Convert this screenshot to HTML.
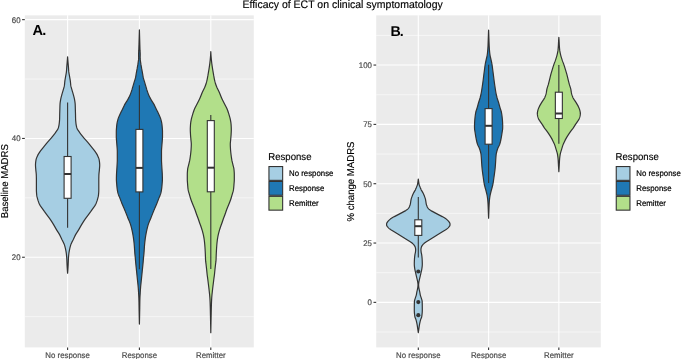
<!DOCTYPE html>
<html><head><meta charset="utf-8"><style>
html,body{margin:0;padding:0;background:#fff;}
svg{display:block;will-change:transform;}
text{font-family:"Liberation Sans",sans-serif;text-rendering:geometricPrecision;}
.gmaj{stroke:#fff;stroke-width:1.1;}
.gmin{stroke:#fff;stroke-width:0.55;}
.vo{stroke:#333333;stroke-width:1.2;stroke-linejoin:round;}
.wh{stroke:#333333;stroke-width:1.1;}
.bx{fill:#fff;stroke:#333333;stroke-width:1.1;}
.md{stroke:#333333;stroke-width:2.0;}
.tk{stroke:#333333;stroke-width:1.1;}
.at{font-size:7.85px;fill:#4D4D4D;stroke:#4D4D4D;stroke-width:0.2px;}
.ax{font-size:9.6px;fill:#000;stroke:#000;stroke-width:0.15px;}
.ti{font-size:10.5px;fill:#000;stroke:#000;stroke-width:0.15px;}
.lt{font-size:9.6px;fill:#000;stroke:#000;stroke-width:0.15px;}
.lx{font-size:7.85px;fill:#000;stroke:#000;stroke-width:0.2px;}
.lab{font-size:14.6px;letter-spacing:-1.0px;font-weight:bold;fill:#000;}
</style></head><body>
<svg width="685" height="359" viewBox="0 0 685 359" xmlns="http://www.w3.org/2000/svg">
<rect x="24.8" y="15.35" width="229.00" height="332.05" fill="#EBEBEB"/>
<line x1="24.8" x2="253.8" y1="316.65" y2="316.65" class="gmin"/>
<line x1="24.8" x2="253.8" y1="197.85" y2="197.85" class="gmin"/>
<line x1="24.8" x2="253.8" y1="79.05" y2="79.05" class="gmin"/>
<line x1="24.8" x2="253.8" y1="257.25" y2="257.25" class="gmaj"/>
<line x1="24.8" x2="253.8" y1="138.45" y2="138.45" class="gmaj"/>
<line x1="24.8" x2="253.8" y1="19.65" y2="19.65" class="gmaj"/>
<line x1="67.6" x2="67.6" y1="15.35" y2="347.4" class="gmaj"/>
<line x1="139.4" x2="139.4" y1="15.35" y2="347.4" class="gmaj"/>
<line x1="210.8" x2="210.8" y1="15.35" y2="347.4" class="gmaj"/>
<path d="M67.60,56.90 L67.64,57.40 L67.67,57.90 L67.71,58.40 L67.75,58.90 L67.79,59.40 L67.83,59.90 L67.87,60.40 L67.91,60.90 L67.95,61.40 L67.99,61.90 L68.03,62.40 L68.08,62.90 L68.12,63.40 L68.17,63.90 L68.21,64.40 L68.26,64.90 L68.30,65.40 L68.34,65.90 L68.38,66.40 L68.42,66.90 L68.46,67.40 L68.49,67.90 L68.52,68.40 L68.55,68.90 L68.58,69.40 L68.62,69.90 L68.65,70.40 L68.69,70.90 L68.74,71.40 L68.79,71.90 L68.86,72.40 L68.93,72.90 L69.01,73.40 L69.10,73.90 L69.19,74.40 L69.28,74.90 L69.38,75.40 L69.46,75.90 L69.55,76.40 L69.63,76.90 L69.72,77.40 L69.81,77.90 L69.90,78.40 L69.99,78.90 L70.08,79.40 L70.16,79.90 L70.24,80.40 L70.31,80.90 L70.37,81.40 L70.43,81.90 L70.48,82.40 L70.52,82.90 L70.57,83.40 L70.61,83.90 L70.66,84.40 L70.72,84.90 L70.79,85.40 L70.87,85.90 L70.97,86.40 L71.09,86.90 L71.22,87.40 L71.36,87.90 L71.51,88.40 L71.66,88.90 L71.81,89.40 L71.95,89.90 L72.09,90.40 L72.24,90.90 L72.38,91.40 L72.53,91.90 L72.69,92.40 L72.84,92.90 L72.98,93.40 L73.13,93.90 L73.27,94.40 L73.40,94.90 L73.54,95.40 L73.67,95.90 L73.81,96.40 L73.94,96.90 L74.07,97.40 L74.19,97.90 L74.31,98.40 L74.42,98.90 L74.51,99.40 L74.60,99.90 L74.69,100.40 L74.77,100.90 L74.85,101.40 L74.93,101.90 L75.00,102.40 L75.06,102.90 L75.12,103.40 L75.16,103.90 L75.19,104.40 L75.22,104.90 L75.24,105.40 L75.26,105.90 L75.27,106.40 L75.29,106.90 L75.30,107.40 L75.31,107.90 L75.32,108.40 L75.34,108.90 L75.35,109.40 L75.37,109.90 L75.38,110.40 L75.40,110.90 L75.42,111.40 L75.43,111.90 L75.45,112.40 L75.46,112.90 L75.48,113.40 L75.49,113.90 L75.50,114.40 L75.52,114.90 L75.52,115.40 L75.53,115.90 L75.54,116.40 L75.55,116.90 L75.56,117.40 L75.57,117.90 L75.58,118.40 L75.59,118.90 L75.61,119.40 L75.64,119.90 L75.67,120.40 L75.71,120.90 L75.75,121.40 L75.80,121.90 L75.85,122.40 L75.90,122.90 L75.96,123.40 L76.02,123.90 L76.09,124.40 L76.17,124.90 L76.26,125.40 L76.36,125.90 L76.47,126.40 L76.59,126.90 L76.72,127.40 L76.86,127.90 L77.05,128.40 L77.28,128.90 L77.55,129.40 L77.85,129.90 L78.18,130.40 L78.52,130.90 L78.87,131.40 L79.22,131.90 L79.56,132.40 L79.90,132.90 L80.26,133.40 L80.62,133.90 L81.00,134.40 L81.39,134.90 L81.79,135.40 L82.19,135.90 L82.60,136.40 L83.01,136.90 L83.42,137.40 L83.83,137.90 L84.26,138.40 L84.70,138.90 L85.14,139.40 L85.59,139.90 L86.04,140.40 L86.49,140.90 L86.94,141.40 L87.37,141.90 L87.80,142.40 L88.22,142.90 L88.64,143.40 L89.05,143.90 L89.46,144.40 L89.86,144.90 L90.26,145.40 L90.66,145.90 L91.06,146.40 L91.46,146.90 L91.86,147.40 L92.26,147.90 L92.67,148.40 L93.07,148.90 L93.48,149.40 L93.88,149.90 L94.27,150.40 L94.65,150.90 L95.01,151.40 L95.37,151.90 L95.70,152.40 L96.03,152.90 L96.35,153.40 L96.67,153.90 L96.97,154.40 L97.25,154.90 L97.52,155.40 L97.76,155.90 L97.98,156.40 L98.19,156.90 L98.40,157.40 L98.60,157.90 L98.78,158.40 L98.95,158.90 L99.08,159.40 L99.18,159.90 L99.26,160.40 L99.34,160.90 L99.41,161.40 L99.48,161.90 L99.54,162.40 L99.59,162.90 L99.63,163.40 L99.67,163.90 L99.69,164.40 L99.70,164.90 L99.70,165.40 L99.68,165.90 L99.66,166.40 L99.63,166.90 L99.59,167.40 L99.55,167.90 L99.51,168.40 L99.46,168.90 L99.42,169.40 L99.38,169.90 L99.34,170.40 L99.29,170.90 L99.23,171.40 L99.17,171.90 L99.12,172.40 L99.06,172.90 L99.01,173.40 L98.97,173.90 L98.93,174.40 L98.90,174.90 L98.89,175.40 L98.87,175.90 L98.85,176.40 L98.84,176.90 L98.83,177.40 L98.82,177.90 L98.81,178.40 L98.80,178.90 L98.80,179.40 L98.80,179.90 L98.80,180.40 L98.80,180.90 L98.80,181.40 L98.80,181.90 L98.80,182.40 L98.80,182.90 L98.80,183.40 L98.80,183.90 L98.80,184.40 L98.80,184.90 L98.80,185.40 L98.80,185.90 L98.80,186.40 L98.80,186.90 L98.80,187.40 L98.80,187.90 L98.80,188.40 L98.80,188.90 L98.80,189.40 L98.80,189.90 L98.80,190.40 L98.79,190.90 L98.77,191.40 L98.74,191.90 L98.71,192.40 L98.68,192.90 L98.64,193.40 L98.59,193.90 L98.55,194.40 L98.50,194.90 L98.44,195.40 L98.36,195.90 L98.27,196.40 L98.16,196.90 L98.04,197.40 L97.91,197.90 L97.77,198.40 L97.63,198.90 L97.49,199.40 L97.34,199.90 L97.19,200.40 L97.03,200.90 L96.85,201.40 L96.67,201.90 L96.48,202.40 L96.27,202.90 L96.06,203.40 L95.83,203.90 L95.60,204.40 L95.35,204.90 L95.07,205.40 L94.76,205.90 L94.43,206.40 L94.08,206.90 L93.72,207.40 L93.36,207.90 L92.99,208.40 L92.63,208.90 L92.27,209.40 L91.92,209.90 L91.57,210.40 L91.21,210.90 L90.86,211.40 L90.49,211.90 L90.13,212.40 L89.77,212.90 L89.40,213.40 L89.04,213.90 L88.67,214.40 L88.30,214.90 L87.93,215.40 L87.55,215.90 L87.17,216.40 L86.79,216.90 L86.41,217.40 L86.03,217.90 L85.67,218.40 L85.31,218.90 L84.96,219.40 L84.62,219.90 L84.29,220.40 L83.96,220.90 L83.63,221.40 L83.31,221.90 L83.00,222.40 L82.68,222.90 L82.37,223.40 L82.07,223.90 L81.76,224.40 L81.46,224.90 L81.17,225.40 L80.88,225.90 L80.59,226.40 L80.31,226.90 L80.03,227.40 L79.75,227.90 L79.47,228.40 L79.19,228.90 L78.90,229.40 L78.60,229.90 L78.29,230.40 L77.98,230.90 L77.66,231.40 L77.33,231.90 L77.01,232.40 L76.68,232.90 L76.37,233.40 L76.06,233.90 L75.77,234.40 L75.49,234.90 L75.23,235.40 L74.97,235.90 L74.72,236.40 L74.48,236.90 L74.24,237.40 L74.00,237.90 L73.77,238.40 L73.53,238.90 L73.30,239.40 L73.05,239.90 L72.80,240.40 L72.55,240.90 L72.29,241.40 L72.04,241.90 L71.79,242.40 L71.55,242.90 L71.33,243.40 L71.12,243.90 L70.93,244.40 L70.77,244.90 L70.61,245.40 L70.46,245.90 L70.32,246.40 L70.18,246.90 L70.05,247.40 L69.93,247.90 L69.81,248.40 L69.70,248.90 L69.60,249.40 L69.50,249.90 L69.40,250.40 L69.30,250.90 L69.21,251.40 L69.13,251.90 L69.04,252.40 L68.97,252.90 L68.90,253.40 L68.83,253.90 L68.78,254.40 L68.73,254.90 L68.68,255.40 L68.63,255.90 L68.59,256.40 L68.55,256.90 L68.51,257.40 L68.47,257.90 L68.44,258.40 L68.41,258.90 L68.38,259.40 L68.36,259.90 L68.34,260.40 L68.31,260.90 L68.30,261.40 L68.28,261.90 L68.26,262.40 L68.24,262.90 L68.22,263.40 L68.20,263.90 L68.18,264.40 L68.16,264.90 L68.13,265.40 L68.10,265.90 L68.07,266.40 L68.05,266.90 L68.02,267.40 L67.98,267.90 L67.95,268.40 L67.92,268.90 L67.89,269.40 L67.85,269.90 L67.82,270.40 L67.78,270.90 L67.74,271.40 L67.70,271.90 L67.66,272.40 L67.62,272.90 L67.60,273.20 L67.60,273.20 L67.58,272.90 L67.54,272.40 L67.50,271.90 L67.46,271.40 L67.42,270.90 L67.38,270.40 L67.35,269.90 L67.31,269.40 L67.28,268.90 L67.25,268.40 L67.22,267.90 L67.18,267.40 L67.15,266.90 L67.13,266.40 L67.10,265.90 L67.07,265.40 L67.04,264.90 L67.02,264.40 L67.00,263.90 L66.98,263.40 L66.96,262.90 L66.94,262.40 L66.92,261.90 L66.90,261.40 L66.89,260.90 L66.86,260.40 L66.84,259.90 L66.82,259.40 L66.79,258.90 L66.76,258.40 L66.73,257.90 L66.69,257.40 L66.65,256.90 L66.61,256.40 L66.57,255.90 L66.52,255.40 L66.47,254.90 L66.42,254.40 L66.37,253.90 L66.30,253.40 L66.23,252.90 L66.16,252.40 L66.07,251.90 L65.99,251.40 L65.90,250.90 L65.80,250.40 L65.70,249.90 L65.60,249.40 L65.50,248.90 L65.39,248.40 L65.27,247.90 L65.15,247.40 L65.02,246.90 L64.88,246.40 L64.74,245.90 L64.59,245.40 L64.43,244.90 L64.27,244.40 L64.08,243.90 L63.87,243.40 L63.65,242.90 L63.41,242.40 L63.16,241.90 L62.91,241.40 L62.65,240.90 L62.40,240.40 L62.15,239.90 L61.90,239.40 L61.67,238.90 L61.43,238.40 L61.20,237.90 L60.96,237.40 L60.72,236.90 L60.48,236.40 L60.23,235.90 L59.97,235.40 L59.71,234.90 L59.43,234.40 L59.14,233.90 L58.83,233.40 L58.52,232.90 L58.19,232.40 L57.87,231.90 L57.54,231.40 L57.22,230.90 L56.91,230.40 L56.60,229.90 L56.30,229.40 L56.01,228.90 L55.73,228.40 L55.45,227.90 L55.17,227.40 L54.89,226.90 L54.61,226.40 L54.32,225.90 L54.03,225.40 L53.74,224.90 L53.44,224.40 L53.13,223.90 L52.83,223.40 L52.52,222.90 L52.20,222.40 L51.89,221.90 L51.57,221.40 L51.24,220.90 L50.91,220.40 L50.58,219.90 L50.24,219.40 L49.89,218.90 L49.53,218.40 L49.17,217.90 L48.79,217.40 L48.41,216.90 L48.03,216.40 L47.65,215.90 L47.27,215.40 L46.90,214.90 L46.53,214.40 L46.16,213.90 L45.80,213.40 L45.43,212.90 L45.07,212.40 L44.71,211.90 L44.34,211.40 L43.99,210.90 L43.63,210.40 L43.28,209.90 L42.93,209.40 L42.57,208.90 L42.21,208.40 L41.84,207.90 L41.48,207.40 L41.12,206.90 L40.77,206.40 L40.44,205.90 L40.13,205.40 L39.85,204.90 L39.60,204.40 L39.37,203.90 L39.14,203.40 L38.93,202.90 L38.72,202.40 L38.53,201.90 L38.35,201.40 L38.17,200.90 L38.01,200.40 L37.86,199.90 L37.71,199.40 L37.57,198.90 L37.43,198.40 L37.29,197.90 L37.16,197.40 L37.04,196.90 L36.93,196.40 L36.84,195.90 L36.76,195.40 L36.70,194.90 L36.65,194.40 L36.61,193.90 L36.56,193.40 L36.52,192.90 L36.49,192.40 L36.46,191.90 L36.43,191.40 L36.41,190.90 L36.40,190.40 L36.40,189.90 L36.40,189.40 L36.40,188.90 L36.40,188.40 L36.40,187.90 L36.40,187.40 L36.40,186.90 L36.40,186.40 L36.40,185.90 L36.40,185.40 L36.40,184.90 L36.40,184.40 L36.40,183.90 L36.40,183.40 L36.40,182.90 L36.40,182.40 L36.40,181.90 L36.40,181.40 L36.40,180.90 L36.40,180.40 L36.40,179.90 L36.40,179.40 L36.40,178.90 L36.39,178.40 L36.38,177.90 L36.37,177.40 L36.36,176.90 L36.35,176.40 L36.33,175.90 L36.31,175.40 L36.30,174.90 L36.27,174.40 L36.23,173.90 L36.19,173.40 L36.14,172.90 L36.08,172.40 L36.03,171.90 L35.97,171.40 L35.91,170.90 L35.86,170.40 L35.82,169.90 L35.78,169.40 L35.74,168.90 L35.69,168.40 L35.65,167.90 L35.61,167.40 L35.57,166.90 L35.54,166.40 L35.52,165.90 L35.50,165.40 L35.50,164.90 L35.51,164.40 L35.53,163.90 L35.57,163.40 L35.61,162.90 L35.66,162.40 L35.72,161.90 L35.79,161.40 L35.86,160.90 L35.94,160.40 L36.02,159.90 L36.12,159.40 L36.25,158.90 L36.42,158.40 L36.60,157.90 L36.80,157.40 L37.01,156.90 L37.22,156.40 L37.44,155.90 L37.68,155.40 L37.95,154.90 L38.23,154.40 L38.53,153.90 L38.85,153.40 L39.17,152.90 L39.50,152.40 L39.83,151.90 L40.19,151.40 L40.55,150.90 L40.93,150.40 L41.32,149.90 L41.72,149.40 L42.13,148.90 L42.53,148.40 L42.94,147.90 L43.34,147.40 L43.74,146.90 L44.14,146.40 L44.54,145.90 L44.94,145.40 L45.34,144.90 L45.74,144.40 L46.15,143.90 L46.56,143.40 L46.98,142.90 L47.40,142.40 L47.83,141.90 L48.26,141.40 L48.71,140.90 L49.16,140.40 L49.61,139.90 L50.06,139.40 L50.50,138.90 L50.94,138.40 L51.37,137.90 L51.78,137.40 L52.19,136.90 L52.60,136.40 L53.01,135.90 L53.41,135.40 L53.81,134.90 L54.20,134.40 L54.58,133.90 L54.94,133.40 L55.30,132.90 L55.64,132.40 L55.98,131.90 L56.33,131.40 L56.68,130.90 L57.02,130.40 L57.35,129.90 L57.65,129.40 L57.92,128.90 L58.15,128.40 L58.34,127.90 L58.48,127.40 L58.61,126.90 L58.73,126.40 L58.84,125.90 L58.94,125.40 L59.03,124.90 L59.11,124.40 L59.18,123.90 L59.24,123.40 L59.30,122.90 L59.35,122.40 L59.40,121.90 L59.45,121.40 L59.49,120.90 L59.53,120.40 L59.56,119.90 L59.59,119.40 L59.61,118.90 L59.62,118.40 L59.63,117.90 L59.64,117.40 L59.65,116.90 L59.66,116.40 L59.67,115.90 L59.68,115.40 L59.68,114.90 L59.70,114.40 L59.71,113.90 L59.72,113.40 L59.74,112.90 L59.75,112.40 L59.77,111.90 L59.78,111.40 L59.80,110.90 L59.82,110.40 L59.83,109.90 L59.85,109.40 L59.86,108.90 L59.88,108.40 L59.89,107.90 L59.90,107.40 L59.91,106.90 L59.93,106.40 L59.94,105.90 L59.96,105.40 L59.98,104.90 L60.01,104.40 L60.04,103.90 L60.08,103.40 L60.14,102.90 L60.20,102.40 L60.27,101.90 L60.35,101.40 L60.43,100.90 L60.51,100.40 L60.60,99.90 L60.69,99.40 L60.78,98.90 L60.89,98.40 L61.01,97.90 L61.13,97.40 L61.26,96.90 L61.39,96.40 L61.53,95.90 L61.66,95.40 L61.80,94.90 L61.93,94.40 L62.07,93.90 L62.22,93.40 L62.36,92.90 L62.51,92.40 L62.67,91.90 L62.82,91.40 L62.96,90.90 L63.11,90.40 L63.25,89.90 L63.39,89.40 L63.54,88.90 L63.69,88.40 L63.84,87.90 L63.98,87.40 L64.11,86.90 L64.23,86.40 L64.33,85.90 L64.41,85.40 L64.48,84.90 L64.54,84.40 L64.59,83.90 L64.63,83.40 L64.68,82.90 L64.72,82.40 L64.77,81.90 L64.83,81.40 L64.89,80.90 L64.96,80.40 L65.04,79.90 L65.12,79.40 L65.21,78.90 L65.30,78.40 L65.39,77.90 L65.48,77.40 L65.57,76.90 L65.65,76.40 L65.74,75.90 L65.82,75.40 L65.92,74.90 L66.01,74.40 L66.10,73.90 L66.19,73.40 L66.27,72.90 L66.34,72.40 L66.41,71.90 L66.46,71.40 L66.51,70.90 L66.55,70.40 L66.58,69.90 L66.62,69.40 L66.65,68.90 L66.68,68.40 L66.71,67.90 L66.74,67.40 L66.78,66.90 L66.82,66.40 L66.86,65.90 L66.90,65.40 L66.94,64.90 L66.99,64.40 L67.03,63.90 L67.08,63.40 L67.12,62.90 L67.17,62.40 L67.21,61.90 L67.25,61.40 L67.29,60.90 L67.33,60.40 L67.37,59.90 L67.41,59.40 L67.45,58.90 L67.49,58.40 L67.53,57.90 L67.56,57.40 L67.60,56.90 Z" fill="#A6CEE3" class="vo"/>
<path d="M139.40,29.90 L139.41,30.40 L139.43,30.90 L139.44,31.40 L139.46,31.90 L139.47,32.40 L139.49,32.90 L139.50,33.40 L139.52,33.90 L139.53,34.40 L139.55,34.90 L139.56,35.40 L139.58,35.90 L139.59,36.40 L139.61,36.90 L139.62,37.40 L139.64,37.90 L139.65,38.40 L139.67,38.90 L139.68,39.40 L139.70,39.90 L139.71,40.40 L139.73,40.90 L139.74,41.40 L139.75,41.90 L139.77,42.40 L139.78,42.90 L139.80,43.40 L139.81,43.90 L139.82,44.40 L139.84,44.90 L139.85,45.40 L139.87,45.90 L139.88,46.40 L139.90,46.90 L139.91,47.40 L139.93,47.90 L139.94,48.40 L139.96,48.90 L139.98,49.40 L140.00,49.90 L140.02,50.40 L140.04,50.90 L140.08,51.40 L140.11,51.90 L140.14,52.40 L140.16,52.90 L140.19,53.40 L140.20,53.90 L140.20,54.40 L140.20,54.90 L140.19,55.40 L140.18,55.90 L140.17,56.40 L140.16,56.90 L140.15,57.40 L140.15,57.90 L140.16,58.40 L140.18,58.90 L140.22,59.40 L140.27,59.90 L140.34,60.40 L140.41,60.90 L140.48,61.40 L140.56,61.90 L140.63,62.40 L140.70,62.90 L140.77,63.40 L140.85,63.90 L140.92,64.40 L141.01,64.90 L141.09,65.40 L141.18,65.90 L141.27,66.40 L141.36,66.90 L141.45,67.40 L141.54,67.90 L141.62,68.40 L141.72,68.90 L141.81,69.40 L141.90,69.90 L141.99,70.40 L142.09,70.90 L142.18,71.40 L142.27,71.90 L142.36,72.40 L142.45,72.90 L142.54,73.40 L142.62,73.90 L142.70,74.40 L142.78,74.90 L142.86,75.40 L142.94,75.90 L143.03,76.40 L143.13,76.90 L143.23,77.40 L143.34,77.90 L143.47,78.40 L143.61,78.90 L143.76,79.40 L143.91,79.90 L144.07,80.40 L144.23,80.90 L144.39,81.40 L144.55,81.90 L144.70,82.40 L144.85,82.90 L144.99,83.40 L145.14,83.90 L145.28,84.40 L145.43,84.90 L145.57,85.40 L145.72,85.90 L145.86,86.40 L146.01,86.90 L146.16,87.40 L146.31,87.90 L146.45,88.40 L146.60,88.90 L146.75,89.40 L146.89,89.90 L147.05,90.40 L147.20,90.90 L147.36,91.40 L147.53,91.90 L147.71,92.40 L147.89,92.90 L148.08,93.40 L148.28,93.90 L148.49,94.40 L148.70,94.90 L148.92,95.40 L149.15,95.90 L149.39,96.40 L149.63,96.90 L149.88,97.40 L150.14,97.90 L150.40,98.40 L150.66,98.90 L150.94,99.40 L151.21,99.90 L151.50,100.40 L151.81,100.90 L152.12,101.40 L152.44,101.90 L152.76,102.40 L153.08,102.90 L153.40,103.40 L153.70,103.90 L153.99,104.40 L154.26,104.90 L154.52,105.40 L154.77,105.90 L155.02,106.40 L155.26,106.90 L155.50,107.40 L155.74,107.90 L155.97,108.40 L156.21,108.90 L156.45,109.40 L156.70,109.90 L156.95,110.40 L157.20,110.90 L157.45,111.40 L157.71,111.90 L157.96,112.40 L158.20,112.90 L158.44,113.40 L158.68,113.90 L158.90,114.40 L159.12,114.90 L159.34,115.40 L159.56,115.90 L159.77,116.40 L159.98,116.90 L160.18,117.40 L160.37,117.90 L160.55,118.40 L160.71,118.90 L160.86,119.40 L161.00,119.90 L161.13,120.40 L161.26,120.90 L161.38,121.40 L161.50,121.90 L161.60,122.40 L161.70,122.90 L161.79,123.40 L161.87,123.90 L161.94,124.40 L162.00,124.90 L162.06,125.40 L162.11,125.90 L162.16,126.40 L162.20,126.90 L162.24,127.40 L162.28,127.90 L162.33,128.40 L162.37,128.90 L162.41,129.40 L162.44,129.90 L162.47,130.40 L162.49,130.90 L162.50,131.40 L162.50,131.90 L162.50,132.40 L162.50,132.90 L162.50,133.40 L162.50,133.90 L162.50,134.40 L162.50,134.90 L162.50,135.40 L162.50,135.90 L162.50,136.40 L162.50,136.90 L162.49,137.40 L162.47,137.90 L162.44,138.40 L162.40,138.90 L162.37,139.40 L162.33,139.90 L162.28,140.40 L162.24,140.90 L162.21,141.40 L162.17,141.90 L162.13,142.40 L162.09,142.90 L162.05,143.40 L162.00,143.90 L161.96,144.40 L161.92,144.90 L161.88,145.40 L161.84,145.90 L161.80,146.40 L161.76,146.90 L161.72,147.40 L161.68,147.90 L161.64,148.40 L161.60,148.90 L161.57,149.40 L161.54,149.90 L161.51,150.40 L161.50,150.90 L161.50,151.40 L161.50,151.90 L161.50,152.40 L161.50,152.90 L161.50,153.40 L161.50,153.90 L161.50,154.40 L161.50,154.90 L161.50,155.40 L161.50,155.90 L161.50,156.40 L161.50,156.90 L161.50,157.40 L161.50,157.90 L161.50,158.40 L161.50,158.90 L161.50,159.40 L161.50,159.90 L161.50,160.40 L161.51,160.90 L161.53,161.40 L161.55,161.90 L161.58,162.40 L161.60,162.90 L161.63,163.40 L161.66,163.90 L161.68,164.40 L161.71,164.90 L161.74,165.40 L161.77,165.90 L161.80,166.40 L161.83,166.90 L161.86,167.40 L161.89,167.90 L161.92,168.40 L161.96,168.90 L161.99,169.40 L162.02,169.90 L162.05,170.40 L162.09,170.90 L162.12,171.40 L162.16,171.90 L162.19,172.40 L162.22,172.90 L162.25,173.40 L162.28,173.90 L162.30,174.40 L162.31,174.90 L162.33,175.40 L162.34,175.90 L162.36,176.40 L162.37,176.90 L162.38,177.40 L162.39,177.90 L162.39,178.40 L162.40,178.90 L162.40,179.40 L162.39,179.90 L162.38,180.40 L162.36,180.90 L162.32,181.40 L162.29,181.90 L162.25,182.40 L162.21,182.90 L162.16,183.40 L162.12,183.90 L162.08,184.40 L162.04,184.90 L162.00,185.40 L161.96,185.90 L161.91,186.40 L161.86,186.90 L161.81,187.40 L161.75,187.90 L161.69,188.40 L161.62,188.90 L161.55,189.40 L161.48,189.90 L161.40,190.40 L161.31,190.90 L161.22,191.40 L161.12,191.90 L161.01,192.40 L160.90,192.90 L160.77,193.40 L160.61,193.90 L160.44,194.40 L160.25,194.90 L160.05,195.40 L159.84,195.90 L159.63,196.40 L159.42,196.90 L159.22,197.40 L159.02,197.90 L158.83,198.40 L158.64,198.90 L158.45,199.40 L158.26,199.90 L158.07,200.40 L157.88,200.90 L157.68,201.40 L157.48,201.90 L157.28,202.40 L157.08,202.90 L156.87,203.40 L156.66,203.90 L156.44,204.40 L156.22,204.90 L156.00,205.40 L155.79,205.90 L155.57,206.40 L155.35,206.90 L155.14,207.40 L154.93,207.90 L154.73,208.40 L154.52,208.90 L154.31,209.40 L154.11,209.90 L153.91,210.40 L153.70,210.90 L153.50,211.40 L153.30,211.90 L153.10,212.40 L152.90,212.90 L152.70,213.40 L152.51,213.90 L152.31,214.40 L152.11,214.90 L151.92,215.40 L151.72,215.90 L151.52,216.40 L151.32,216.90 L151.12,217.40 L150.91,217.90 L150.70,218.40 L150.48,218.90 L150.26,219.40 L150.05,219.90 L149.84,220.40 L149.64,220.90 L149.44,221.40 L149.24,221.90 L149.05,222.40 L148.85,222.90 L148.66,223.40 L148.48,223.90 L148.31,224.40 L148.15,224.90 L148.00,225.40 L147.85,225.90 L147.72,226.40 L147.58,226.90 L147.45,227.40 L147.33,227.90 L147.20,228.40 L147.09,228.90 L146.97,229.40 L146.85,229.90 L146.74,230.40 L146.63,230.90 L146.52,231.40 L146.42,231.90 L146.32,232.40 L146.22,232.90 L146.12,233.40 L146.03,233.90 L145.94,234.40 L145.85,234.90 L145.76,235.40 L145.68,235.90 L145.60,236.40 L145.52,236.90 L145.44,237.40 L145.37,237.90 L145.30,238.40 L145.23,238.90 L145.16,239.40 L145.10,239.90 L145.04,240.40 L144.97,240.90 L144.91,241.40 L144.86,241.90 L144.80,242.40 L144.75,242.90 L144.69,243.40 L144.65,243.90 L144.60,244.40 L144.56,244.90 L144.52,245.40 L144.48,245.90 L144.44,246.40 L144.41,246.90 L144.37,247.40 L144.34,247.90 L144.31,248.40 L144.27,248.90 L144.24,249.40 L144.20,249.90 L144.17,250.40 L144.13,250.90 L144.10,251.40 L144.07,251.90 L144.03,252.40 L144.00,252.90 L143.96,253.40 L143.92,253.90 L143.87,254.40 L143.82,254.90 L143.77,255.40 L143.71,255.90 L143.66,256.40 L143.60,256.90 L143.55,257.40 L143.50,257.90 L143.45,258.40 L143.41,258.90 L143.37,259.40 L143.33,259.90 L143.29,260.40 L143.25,260.90 L143.21,261.40 L143.17,261.90 L143.13,262.40 L143.08,262.90 L143.03,263.40 L142.98,263.90 L142.93,264.40 L142.88,264.90 L142.83,265.40 L142.78,265.90 L142.72,266.40 L142.67,266.90 L142.62,267.40 L142.57,267.90 L142.52,268.40 L142.47,268.90 L142.42,269.40 L142.37,269.90 L142.31,270.40 L142.26,270.90 L142.21,271.40 L142.16,271.90 L142.11,272.40 L142.06,272.90 L142.01,273.40 L141.96,273.90 L141.91,274.40 L141.86,274.90 L141.80,275.40 L141.75,275.90 L141.70,276.40 L141.65,276.90 L141.60,277.40 L141.55,277.90 L141.50,278.40 L141.44,278.90 L141.39,279.40 L141.34,279.90 L141.29,280.40 L141.23,280.90 L141.18,281.40 L141.13,281.90 L141.08,282.40 L141.03,282.90 L140.97,283.40 L140.92,283.90 L140.86,284.40 L140.81,284.90 L140.76,285.40 L140.71,285.90 L140.66,286.40 L140.62,286.90 L140.58,287.40 L140.54,287.90 L140.50,288.40 L140.46,288.90 L140.43,289.40 L140.39,289.90 L140.36,290.40 L140.33,290.90 L140.30,291.40 L140.26,291.90 L140.23,292.40 L140.21,292.90 L140.18,293.40 L140.15,293.90 L140.12,294.40 L140.09,294.90 L140.06,295.40 L140.03,295.90 L140.01,296.40 L139.98,296.90 L139.96,297.40 L139.94,297.90 L139.92,298.40 L139.90,298.90 L139.89,299.40 L139.88,299.90 L139.86,300.40 L139.85,300.90 L139.84,301.40 L139.83,301.90 L139.82,302.40 L139.81,302.90 L139.81,303.40 L139.80,303.90 L139.79,304.40 L139.78,304.90 L139.77,305.40 L139.77,305.90 L139.76,306.40 L139.75,306.90 L139.74,307.40 L139.74,307.90 L139.73,308.40 L139.72,308.90 L139.71,309.40 L139.70,309.90 L139.69,310.40 L139.68,310.90 L139.67,311.40 L139.66,311.90 L139.65,312.40 L139.64,312.90 L139.63,313.40 L139.62,313.90 L139.61,314.40 L139.60,314.90 L139.59,315.40 L139.58,315.90 L139.57,316.40 L139.56,316.90 L139.55,317.40 L139.54,317.90 L139.53,318.40 L139.52,318.90 L139.51,319.40 L139.49,319.90 L139.48,320.40 L139.47,320.90 L139.46,321.40 L139.45,321.90 L139.44,322.40 L139.43,322.90 L139.42,323.40 L139.40,323.90 L139.40,324.10 L139.40,324.10 L139.40,323.90 L139.38,323.40 L139.37,322.90 L139.36,322.40 L139.35,321.90 L139.34,321.40 L139.33,320.90 L139.32,320.40 L139.31,319.90 L139.29,319.40 L139.28,318.90 L139.27,318.40 L139.26,317.90 L139.25,317.40 L139.24,316.90 L139.23,316.40 L139.22,315.90 L139.21,315.40 L139.20,314.90 L139.19,314.40 L139.18,313.90 L139.17,313.40 L139.16,312.90 L139.15,312.40 L139.14,311.90 L139.13,311.40 L139.12,310.90 L139.11,310.40 L139.10,309.90 L139.09,309.40 L139.08,308.90 L139.07,308.40 L139.06,307.90 L139.06,307.40 L139.05,306.90 L139.04,306.40 L139.03,305.90 L139.03,305.40 L139.02,304.90 L139.01,304.40 L139.00,303.90 L138.99,303.40 L138.99,302.90 L138.98,302.40 L138.97,301.90 L138.96,301.40 L138.95,300.90 L138.94,300.40 L138.92,299.90 L138.91,299.40 L138.90,298.90 L138.88,298.40 L138.86,297.90 L138.84,297.40 L138.82,296.90 L138.79,296.40 L138.77,295.90 L138.74,295.40 L138.71,294.90 L138.68,294.40 L138.65,293.90 L138.62,293.40 L138.59,292.90 L138.57,292.40 L138.54,291.90 L138.50,291.40 L138.47,290.90 L138.44,290.40 L138.41,289.90 L138.37,289.40 L138.34,288.90 L138.30,288.40 L138.26,287.90 L138.22,287.40 L138.18,286.90 L138.14,286.40 L138.09,285.90 L138.04,285.40 L137.99,284.90 L137.94,284.40 L137.88,283.90 L137.83,283.40 L137.77,282.90 L137.72,282.40 L137.67,281.90 L137.62,281.40 L137.57,280.90 L137.51,280.40 L137.46,279.90 L137.41,279.40 L137.36,278.90 L137.30,278.40 L137.25,277.90 L137.20,277.40 L137.15,276.90 L137.10,276.40 L137.05,275.90 L137.00,275.40 L136.94,274.90 L136.89,274.40 L136.84,273.90 L136.79,273.40 L136.74,272.90 L136.69,272.40 L136.64,271.90 L136.59,271.40 L136.54,270.90 L136.49,270.40 L136.43,269.90 L136.38,269.40 L136.33,268.90 L136.28,268.40 L136.23,267.90 L136.18,267.40 L136.13,266.90 L136.08,266.40 L136.02,265.90 L135.97,265.40 L135.92,264.90 L135.87,264.40 L135.82,263.90 L135.77,263.40 L135.72,262.90 L135.67,262.40 L135.63,261.90 L135.59,261.40 L135.55,260.90 L135.51,260.40 L135.47,259.90 L135.43,259.40 L135.39,258.90 L135.35,258.40 L135.30,257.90 L135.25,257.40 L135.20,256.90 L135.14,256.40 L135.09,255.90 L135.03,255.40 L134.98,254.90 L134.93,254.40 L134.88,253.90 L134.84,253.40 L134.80,252.90 L134.77,252.40 L134.73,251.90 L134.70,251.40 L134.67,250.90 L134.63,250.40 L134.60,249.90 L134.56,249.40 L134.53,248.90 L134.49,248.40 L134.46,247.90 L134.43,247.40 L134.39,246.90 L134.36,246.40 L134.32,245.90 L134.28,245.40 L134.24,244.90 L134.20,244.40 L134.15,243.90 L134.11,243.40 L134.05,242.90 L134.00,242.40 L133.94,241.90 L133.89,241.40 L133.83,240.90 L133.76,240.40 L133.70,239.90 L133.64,239.40 L133.57,238.90 L133.50,238.40 L133.43,237.90 L133.36,237.40 L133.28,236.90 L133.20,236.40 L133.12,235.90 L133.04,235.40 L132.95,234.90 L132.86,234.40 L132.77,233.90 L132.68,233.40 L132.58,232.90 L132.48,232.40 L132.38,231.90 L132.28,231.40 L132.17,230.90 L132.06,230.40 L131.95,229.90 L131.83,229.40 L131.71,228.90 L131.60,228.40 L131.47,227.90 L131.35,227.40 L131.22,226.90 L131.08,226.40 L130.95,225.90 L130.80,225.40 L130.65,224.90 L130.49,224.40 L130.32,223.90 L130.14,223.40 L129.95,222.90 L129.75,222.40 L129.56,221.90 L129.36,221.40 L129.16,220.90 L128.96,220.40 L128.75,219.90 L128.54,219.40 L128.32,218.90 L128.10,218.40 L127.89,217.90 L127.68,217.40 L127.48,216.90 L127.28,216.40 L127.08,215.90 L126.88,215.40 L126.69,214.90 L126.49,214.40 L126.29,213.90 L126.10,213.40 L125.90,212.90 L125.70,212.40 L125.50,211.90 L125.30,211.40 L125.10,210.90 L124.89,210.40 L124.69,209.90 L124.49,209.40 L124.28,208.90 L124.07,208.40 L123.87,207.90 L123.66,207.40 L123.45,206.90 L123.23,206.40 L123.01,205.90 L122.80,205.40 L122.58,204.90 L122.36,204.40 L122.14,203.90 L121.93,203.40 L121.72,202.90 L121.52,202.40 L121.32,201.90 L121.12,201.40 L120.92,200.90 L120.73,200.40 L120.54,199.90 L120.35,199.40 L120.16,198.90 L119.97,198.40 L119.78,197.90 L119.58,197.40 L119.38,196.90 L119.17,196.40 L118.96,195.90 L118.75,195.40 L118.55,194.90 L118.36,194.40 L118.19,193.90 L118.03,193.40 L117.90,192.90 L117.79,192.40 L117.68,191.90 L117.58,191.40 L117.49,190.90 L117.40,190.40 L117.32,189.90 L117.25,189.40 L117.18,188.90 L117.11,188.40 L117.05,187.90 L116.99,187.40 L116.94,186.90 L116.89,186.40 L116.84,185.90 L116.80,185.40 L116.76,184.90 L116.72,184.40 L116.68,183.90 L116.64,183.40 L116.59,182.90 L116.55,182.40 L116.51,181.90 L116.48,181.40 L116.44,180.90 L116.42,180.40 L116.41,179.90 L116.40,179.40 L116.40,178.90 L116.41,178.40 L116.41,177.90 L116.42,177.40 L116.43,176.90 L116.44,176.40 L116.46,175.90 L116.47,175.40 L116.49,174.90 L116.50,174.40 L116.52,173.90 L116.55,173.40 L116.58,172.90 L116.61,172.40 L116.64,171.90 L116.68,171.40 L116.71,170.90 L116.75,170.40 L116.78,169.90 L116.81,169.40 L116.84,168.90 L116.88,168.40 L116.91,167.90 L116.94,167.40 L116.97,166.90 L117.00,166.40 L117.03,165.90 L117.06,165.40 L117.09,164.90 L117.12,164.40 L117.14,163.90 L117.17,163.40 L117.20,162.90 L117.22,162.40 L117.25,161.90 L117.27,161.40 L117.29,160.90 L117.30,160.40 L117.30,159.90 L117.30,159.40 L117.30,158.90 L117.30,158.40 L117.30,157.90 L117.30,157.40 L117.30,156.90 L117.30,156.40 L117.30,155.90 L117.30,155.40 L117.30,154.90 L117.30,154.40 L117.30,153.90 L117.30,153.40 L117.30,152.90 L117.30,152.40 L117.30,151.90 L117.30,151.40 L117.30,150.90 L117.29,150.40 L117.26,149.90 L117.23,149.40 L117.20,148.90 L117.16,148.40 L117.12,147.90 L117.08,147.40 L117.04,146.90 L117.00,146.40 L116.96,145.90 L116.92,145.40 L116.88,144.90 L116.84,144.40 L116.80,143.90 L116.75,143.40 L116.71,142.90 L116.67,142.40 L116.63,141.90 L116.59,141.40 L116.56,140.90 L116.52,140.40 L116.47,139.90 L116.43,139.40 L116.40,138.90 L116.36,138.40 L116.33,137.90 L116.31,137.40 L116.30,136.90 L116.30,136.40 L116.30,135.90 L116.30,135.40 L116.30,134.90 L116.30,134.40 L116.30,133.90 L116.30,133.40 L116.30,132.90 L116.30,132.40 L116.30,131.90 L116.30,131.40 L116.31,130.90 L116.33,130.40 L116.36,129.90 L116.39,129.40 L116.43,128.90 L116.47,128.40 L116.52,127.90 L116.56,127.40 L116.60,126.90 L116.64,126.40 L116.69,125.90 L116.74,125.40 L116.80,124.90 L116.86,124.40 L116.93,123.90 L117.01,123.40 L117.10,122.90 L117.20,122.40 L117.30,121.90 L117.42,121.40 L117.54,120.90 L117.67,120.40 L117.80,119.90 L117.94,119.40 L118.09,118.90 L118.25,118.40 L118.43,117.90 L118.62,117.40 L118.82,116.90 L119.03,116.40 L119.24,115.90 L119.46,115.40 L119.68,114.90 L119.90,114.40 L120.12,113.90 L120.36,113.40 L120.60,112.90 L120.84,112.40 L121.09,111.90 L121.35,111.40 L121.60,110.90 L121.85,110.40 L122.10,109.90 L122.35,109.40 L122.59,108.90 L122.83,108.40 L123.06,107.90 L123.30,107.40 L123.54,106.90 L123.78,106.40 L124.03,105.90 L124.28,105.40 L124.54,104.90 L124.81,104.40 L125.10,103.90 L125.40,103.40 L125.72,102.90 L126.04,102.40 L126.36,101.90 L126.68,101.40 L126.99,100.90 L127.30,100.40 L127.59,99.90 L127.86,99.40 L128.14,98.90 L128.40,98.40 L128.66,97.90 L128.92,97.40 L129.17,96.90 L129.41,96.40 L129.65,95.90 L129.88,95.40 L130.10,94.90 L130.31,94.40 L130.52,93.90 L130.72,93.40 L130.91,92.90 L131.09,92.40 L131.27,91.90 L131.44,91.40 L131.60,90.90 L131.75,90.40 L131.91,89.90 L132.05,89.40 L132.20,88.90 L132.35,88.40 L132.49,87.90 L132.64,87.40 L132.79,86.90 L132.94,86.40 L133.08,85.90 L133.23,85.40 L133.37,84.90 L133.52,84.40 L133.66,83.90 L133.81,83.40 L133.95,82.90 L134.10,82.40 L134.25,81.90 L134.41,81.40 L134.57,80.90 L134.73,80.40 L134.89,79.90 L135.04,79.40 L135.19,78.90 L135.33,78.40 L135.46,77.90 L135.57,77.40 L135.67,76.90 L135.77,76.40 L135.86,75.90 L135.94,75.40 L136.02,74.90 L136.10,74.40 L136.18,73.90 L136.26,73.40 L136.35,72.90 L136.44,72.40 L136.53,71.90 L136.62,71.40 L136.71,70.90 L136.81,70.40 L136.90,69.90 L136.99,69.40 L137.08,68.90 L137.18,68.40 L137.26,67.90 L137.35,67.40 L137.44,66.90 L137.53,66.40 L137.62,65.90 L137.71,65.40 L137.79,64.90 L137.88,64.40 L137.95,63.90 L138.03,63.40 L138.10,62.90 L138.17,62.40 L138.24,61.90 L138.32,61.40 L138.39,60.90 L138.46,60.40 L138.53,59.90 L138.58,59.40 L138.62,58.90 L138.64,58.40 L138.65,57.90 L138.65,57.40 L138.64,56.90 L138.63,56.40 L138.62,55.90 L138.61,55.40 L138.60,54.90 L138.60,54.40 L138.60,53.90 L138.61,53.40 L138.64,52.90 L138.66,52.40 L138.69,51.90 L138.72,51.40 L138.76,50.90 L138.78,50.40 L138.80,49.90 L138.82,49.40 L138.84,48.90 L138.86,48.40 L138.87,47.90 L138.89,47.40 L138.90,46.90 L138.92,46.40 L138.93,45.90 L138.95,45.40 L138.96,44.90 L138.98,44.40 L138.99,43.90 L139.00,43.40 L139.02,42.90 L139.03,42.40 L139.05,41.90 L139.06,41.40 L139.07,40.90 L139.09,40.40 L139.10,39.90 L139.12,39.40 L139.13,38.90 L139.15,38.40 L139.16,37.90 L139.18,37.40 L139.19,36.90 L139.21,36.40 L139.22,35.90 L139.24,35.40 L139.25,34.90 L139.27,34.40 L139.28,33.90 L139.30,33.40 L139.31,32.90 L139.33,32.40 L139.34,31.90 L139.36,31.40 L139.37,30.90 L139.39,30.40 L139.40,29.90 Z" fill="#1F78B4" class="vo"/>
<path d="M210.80,51.70 L210.82,52.20 L210.85,52.70 L210.88,53.20 L210.91,53.70 L210.94,54.20 L210.97,54.70 L211.01,55.20 L211.05,55.70 L211.08,56.20 L211.12,56.70 L211.16,57.20 L211.20,57.70 L211.24,58.20 L211.29,58.70 L211.33,59.20 L211.38,59.70 L211.43,60.20 L211.49,60.70 L211.54,61.20 L211.60,61.70 L211.65,62.20 L211.71,62.70 L211.77,63.20 L211.83,63.70 L211.89,64.20 L211.96,64.70 L212.03,65.20 L212.09,65.70 L212.16,66.20 L212.23,66.70 L212.31,67.20 L212.38,67.70 L212.46,68.20 L212.53,68.70 L212.61,69.20 L212.69,69.70 L212.78,70.20 L212.86,70.70 L212.95,71.20 L213.03,71.70 L213.12,72.20 L213.20,72.70 L213.29,73.20 L213.37,73.70 L213.46,74.20 L213.55,74.70 L213.64,75.20 L213.72,75.70 L213.82,76.20 L213.91,76.70 L214.00,77.20 L214.09,77.70 L214.18,78.20 L214.28,78.70 L214.37,79.20 L214.47,79.70 L214.58,80.20 L214.70,80.70 L214.82,81.20 L214.96,81.70 L215.10,82.20 L215.24,82.70 L215.40,83.20 L215.56,83.70 L215.72,84.20 L215.89,84.70 L216.07,85.20 L216.25,85.70 L216.44,86.20 L216.64,86.70 L216.85,87.20 L217.07,87.70 L217.31,88.20 L217.55,88.70 L217.80,89.20 L218.05,89.70 L218.30,90.20 L218.55,90.70 L218.79,91.20 L219.03,91.70 L219.26,92.20 L219.47,92.70 L219.68,93.20 L219.89,93.70 L220.09,94.20 L220.28,94.70 L220.48,95.20 L220.68,95.70 L220.88,96.20 L221.08,96.70 L221.28,97.20 L221.49,97.70 L221.71,98.20 L221.94,98.70 L222.17,99.20 L222.41,99.70 L222.66,100.20 L222.91,100.70 L223.16,101.20 L223.42,101.70 L223.67,102.20 L223.93,102.70 L224.19,103.20 L224.45,103.70 L224.70,104.20 L224.95,104.70 L225.21,105.20 L225.48,105.70 L225.74,106.20 L226.01,106.70 L226.27,107.20 L226.52,107.70 L226.76,108.20 L226.99,108.70 L227.20,109.20 L227.39,109.70 L227.58,110.20 L227.76,110.70 L227.93,111.20 L228.10,111.70 L228.26,112.20 L228.42,112.70 L228.57,113.20 L228.72,113.70 L228.87,114.20 L229.01,114.70 L229.16,115.20 L229.31,115.70 L229.45,116.20 L229.60,116.70 L229.74,117.20 L229.88,117.70 L230.02,118.20 L230.14,118.70 L230.26,119.20 L230.36,119.70 L230.46,120.20 L230.55,120.70 L230.64,121.20 L230.73,121.70 L230.81,122.20 L230.88,122.70 L230.95,123.20 L231.01,123.70 L231.06,124.20 L231.10,124.70 L231.13,125.20 L231.16,125.70 L231.19,126.20 L231.22,126.70 L231.24,127.20 L231.26,127.70 L231.28,128.20 L231.29,128.70 L231.30,129.20 L231.30,129.70 L231.30,130.20 L231.28,130.70 L231.27,131.20 L231.25,131.70 L231.23,132.20 L231.20,132.70 L231.17,133.20 L231.14,133.70 L231.12,134.20 L231.09,134.70 L231.06,135.20 L231.02,135.70 L230.98,136.20 L230.94,136.70 L230.89,137.20 L230.85,137.70 L230.80,138.20 L230.76,138.70 L230.72,139.20 L230.67,139.70 L230.62,140.20 L230.57,140.70 L230.52,141.20 L230.46,141.70 L230.41,142.20 L230.37,142.70 L230.33,143.20 L230.31,143.70 L230.30,144.20 L230.30,144.70 L230.31,145.20 L230.33,145.70 L230.34,146.20 L230.37,146.70 L230.39,147.20 L230.42,147.70 L230.45,148.20 L230.48,148.70 L230.51,149.20 L230.54,149.70 L230.58,150.20 L230.62,150.70 L230.67,151.20 L230.72,151.70 L230.77,152.20 L230.83,152.70 L230.88,153.20 L230.94,153.70 L231.00,154.20 L231.06,154.70 L231.12,155.20 L231.19,155.70 L231.25,156.20 L231.31,156.70 L231.38,157.20 L231.45,157.70 L231.52,158.20 L231.60,158.70 L231.68,159.20 L231.77,159.70 L231.85,160.20 L231.95,160.70 L232.06,161.20 L232.18,161.70 L232.30,162.20 L232.42,162.70 L232.54,163.20 L232.66,163.70 L232.78,164.20 L232.90,164.70 L233.02,165.20 L233.15,165.70 L233.28,166.20 L233.41,166.70 L233.54,167.20 L233.67,167.70 L233.78,168.20 L233.88,168.70 L233.95,169.20 L234.01,169.70 L234.06,170.20 L234.10,170.70 L234.14,171.20 L234.18,171.70 L234.22,172.20 L234.25,172.70 L234.27,173.20 L234.29,173.70 L234.30,174.20 L234.30,174.70 L234.30,175.20 L234.30,175.70 L234.30,176.20 L234.30,176.70 L234.30,177.20 L234.30,177.70 L234.30,178.20 L234.30,178.70 L234.30,179.20 L234.30,179.70 L234.29,180.20 L234.27,180.70 L234.24,181.20 L234.20,181.70 L234.16,182.20 L234.12,182.70 L234.08,183.20 L234.04,183.70 L234.00,184.20 L233.96,184.70 L233.93,185.20 L233.89,185.70 L233.85,186.20 L233.80,186.70 L233.76,187.20 L233.71,187.70 L233.66,188.20 L233.60,188.70 L233.54,189.20 L233.47,189.70 L233.38,190.20 L233.28,190.70 L233.16,191.20 L233.04,191.70 L232.90,192.20 L232.75,192.70 L232.60,193.20 L232.45,193.70 L232.30,194.20 L232.16,194.70 L232.01,195.20 L231.87,195.70 L231.72,196.20 L231.57,196.70 L231.42,197.20 L231.26,197.70 L231.10,198.20 L230.94,198.70 L230.77,199.20 L230.60,199.70 L230.42,200.20 L230.24,200.70 L230.05,201.20 L229.86,201.70 L229.66,202.20 L229.46,202.70 L229.26,203.20 L229.06,203.70 L228.86,204.20 L228.66,204.70 L228.46,205.20 L228.25,205.70 L228.04,206.20 L227.83,206.70 L227.62,207.20 L227.42,207.70 L227.21,208.20 L227.01,208.70 L226.81,209.20 L226.63,209.70 L226.44,210.20 L226.27,210.70 L226.10,211.20 L225.93,211.70 L225.76,212.20 L225.59,212.70 L225.42,213.20 L225.25,213.70 L225.07,214.20 L224.89,214.70 L224.71,215.20 L224.52,215.70 L224.33,216.20 L224.13,216.70 L223.94,217.20 L223.75,217.70 L223.56,218.20 L223.38,218.70 L223.20,219.20 L223.03,219.70 L222.86,220.20 L222.70,220.70 L222.53,221.20 L222.37,221.70 L222.20,222.20 L222.03,222.70 L221.85,223.20 L221.67,223.70 L221.48,224.20 L221.29,224.70 L221.10,225.20 L220.92,225.70 L220.74,226.20 L220.57,226.70 L220.40,227.20 L220.24,227.70 L220.08,228.20 L219.92,228.70 L219.77,229.20 L219.61,229.70 L219.47,230.20 L219.32,230.70 L219.18,231.20 L219.05,231.70 L218.92,232.20 L218.79,232.70 L218.66,233.20 L218.54,233.70 L218.41,234.20 L218.30,234.70 L218.18,235.20 L218.08,235.70 L217.98,236.20 L217.88,236.70 L217.79,237.20 L217.70,237.70 L217.62,238.20 L217.54,238.70 L217.46,239.20 L217.38,239.70 L217.31,240.20 L217.25,240.70 L217.19,241.20 L217.13,241.70 L217.07,242.20 L217.02,242.70 L216.97,243.20 L216.92,243.70 L216.88,244.20 L216.83,244.70 L216.79,245.20 L216.75,245.70 L216.71,246.20 L216.68,246.70 L216.64,247.20 L216.61,247.70 L216.58,248.20 L216.54,248.70 L216.51,249.20 L216.48,249.70 L216.45,250.20 L216.43,250.70 L216.40,251.20 L216.37,251.70 L216.35,252.20 L216.32,252.70 L216.30,253.20 L216.28,253.70 L216.25,254.20 L216.23,254.70 L216.21,255.20 L216.19,255.70 L216.18,256.20 L216.16,256.70 L216.15,257.20 L216.13,257.70 L216.12,258.20 L216.10,258.70 L216.08,259.20 L216.06,259.70 L216.03,260.20 L215.99,260.70 L215.94,261.20 L215.89,261.70 L215.82,262.20 L215.76,262.70 L215.69,263.20 L215.62,263.70 L215.56,264.20 L215.50,264.70 L215.44,265.20 L215.39,265.70 L215.33,266.20 L215.27,266.70 L215.22,267.20 L215.16,267.70 L215.10,268.20 L215.05,268.70 L214.99,269.20 L214.94,269.70 L214.89,270.20 L214.84,270.70 L214.79,271.20 L214.74,271.70 L214.69,272.20 L214.64,272.70 L214.59,273.20 L214.54,273.70 L214.48,274.20 L214.43,274.70 L214.37,275.20 L214.30,275.70 L214.24,276.20 L214.17,276.70 L214.10,277.20 L214.03,277.70 L213.96,278.20 L213.89,278.70 L213.83,279.20 L213.76,279.70 L213.70,280.20 L213.63,280.70 L213.57,281.20 L213.51,281.70 L213.45,282.20 L213.39,282.70 L213.32,283.20 L213.26,283.70 L213.20,284.20 L213.14,284.70 L213.07,285.20 L213.01,285.70 L212.95,286.20 L212.89,286.70 L212.82,287.20 L212.76,287.70 L212.70,288.20 L212.64,288.70 L212.59,289.20 L212.53,289.70 L212.48,290.20 L212.42,290.70 L212.36,291.20 L212.31,291.70 L212.25,292.20 L212.20,292.70 L212.14,293.20 L212.09,293.70 L212.04,294.20 L211.98,294.70 L211.94,295.20 L211.89,295.70 L211.85,296.20 L211.81,296.70 L211.77,297.20 L211.73,297.70 L211.70,298.20 L211.67,298.70 L211.64,299.20 L211.62,299.70 L211.59,300.20 L211.57,300.70 L211.54,301.20 L211.52,301.70 L211.50,302.20 L211.48,302.70 L211.46,303.20 L211.44,303.70 L211.43,304.20 L211.41,304.70 L211.39,305.20 L211.38,305.70 L211.36,306.20 L211.35,306.70 L211.33,307.20 L211.32,307.70 L211.31,308.20 L211.29,308.70 L211.28,309.20 L211.27,309.70 L211.26,310.20 L211.25,310.70 L211.23,311.20 L211.22,311.70 L211.21,312.20 L211.20,312.70 L211.19,313.20 L211.18,313.70 L211.17,314.20 L211.16,314.70 L211.15,315.20 L211.13,315.70 L211.12,316.20 L211.11,316.70 L211.10,317.20 L211.09,317.70 L211.08,318.20 L211.07,318.70 L211.06,319.20 L211.05,319.70 L211.04,320.20 L211.03,320.70 L211.02,321.20 L211.01,321.70 L211.00,322.20 L210.99,322.70 L210.98,323.20 L210.96,323.70 L210.96,324.20 L210.95,324.70 L210.94,325.20 L210.93,325.70 L210.92,326.20 L210.91,326.70 L210.90,327.20 L210.89,327.70 L210.88,328.20 L210.87,328.70 L210.86,329.20 L210.85,329.70 L210.84,330.20 L210.83,330.70 L210.83,331.20 L210.82,331.70 L210.81,332.20 L210.80,332.70 L210.80,332.70 L210.79,332.20 L210.78,331.70 L210.77,331.20 L210.77,330.70 L210.76,330.20 L210.75,329.70 L210.74,329.20 L210.73,328.70 L210.72,328.20 L210.71,327.70 L210.70,327.20 L210.69,326.70 L210.68,326.20 L210.67,325.70 L210.66,325.20 L210.65,324.70 L210.64,324.20 L210.64,323.70 L210.62,323.20 L210.61,322.70 L210.60,322.20 L210.59,321.70 L210.58,321.20 L210.57,320.70 L210.56,320.20 L210.55,319.70 L210.54,319.20 L210.53,318.70 L210.52,318.20 L210.51,317.70 L210.50,317.20 L210.49,316.70 L210.48,316.20 L210.47,315.70 L210.45,315.20 L210.44,314.70 L210.43,314.20 L210.42,313.70 L210.41,313.20 L210.40,312.70 L210.39,312.20 L210.38,311.70 L210.37,311.20 L210.35,310.70 L210.34,310.20 L210.33,309.70 L210.32,309.20 L210.31,308.70 L210.29,308.20 L210.28,307.70 L210.27,307.20 L210.25,306.70 L210.24,306.20 L210.22,305.70 L210.21,305.20 L210.19,304.70 L210.17,304.20 L210.16,303.70 L210.14,303.20 L210.12,302.70 L210.10,302.20 L210.08,301.70 L210.06,301.20 L210.03,300.70 L210.01,300.20 L209.98,299.70 L209.96,299.20 L209.93,298.70 L209.90,298.20 L209.87,297.70 L209.83,297.20 L209.79,296.70 L209.75,296.20 L209.71,295.70 L209.66,295.20 L209.62,294.70 L209.56,294.20 L209.51,293.70 L209.46,293.20 L209.40,292.70 L209.35,292.20 L209.29,291.70 L209.24,291.20 L209.18,290.70 L209.12,290.20 L209.07,289.70 L209.01,289.20 L208.96,288.70 L208.90,288.20 L208.84,287.70 L208.78,287.20 L208.71,286.70 L208.65,286.20 L208.59,285.70 L208.53,285.20 L208.46,284.70 L208.40,284.20 L208.34,283.70 L208.28,283.20 L208.21,282.70 L208.15,282.20 L208.09,281.70 L208.03,281.20 L207.97,280.70 L207.90,280.20 L207.84,279.70 L207.77,279.20 L207.71,278.70 L207.64,278.20 L207.57,277.70 L207.50,277.20 L207.43,276.70 L207.36,276.20 L207.30,275.70 L207.23,275.20 L207.17,274.70 L207.12,274.20 L207.06,273.70 L207.01,273.20 L206.96,272.70 L206.91,272.20 L206.86,271.70 L206.81,271.20 L206.76,270.70 L206.71,270.20 L206.66,269.70 L206.61,269.20 L206.55,268.70 L206.50,268.20 L206.44,267.70 L206.38,267.20 L206.33,266.70 L206.27,266.20 L206.21,265.70 L206.16,265.20 L206.10,264.70 L206.04,264.20 L205.98,263.70 L205.91,263.20 L205.84,262.70 L205.78,262.20 L205.71,261.70 L205.66,261.20 L205.61,260.70 L205.57,260.20 L205.54,259.70 L205.52,259.20 L205.50,258.70 L205.48,258.20 L205.47,257.70 L205.45,257.20 L205.44,256.70 L205.42,256.20 L205.41,255.70 L205.39,255.20 L205.37,254.70 L205.35,254.20 L205.32,253.70 L205.30,253.20 L205.28,252.70 L205.25,252.20 L205.23,251.70 L205.20,251.20 L205.17,250.70 L205.15,250.20 L205.12,249.70 L205.09,249.20 L205.06,248.70 L205.02,248.20 L204.99,247.70 L204.96,247.20 L204.92,246.70 L204.89,246.20 L204.85,245.70 L204.81,245.20 L204.77,244.70 L204.72,244.20 L204.68,243.70 L204.63,243.20 L204.58,242.70 L204.53,242.20 L204.47,241.70 L204.41,241.20 L204.35,240.70 L204.29,240.20 L204.22,239.70 L204.14,239.20 L204.06,238.70 L203.98,238.20 L203.90,237.70 L203.81,237.20 L203.72,236.70 L203.62,236.20 L203.52,235.70 L203.42,235.20 L203.30,234.70 L203.19,234.20 L203.06,233.70 L202.94,233.20 L202.81,232.70 L202.68,232.20 L202.55,231.70 L202.42,231.20 L202.28,230.70 L202.13,230.20 L201.99,229.70 L201.83,229.20 L201.68,228.70 L201.52,228.20 L201.36,227.70 L201.20,227.20 L201.03,226.70 L200.86,226.20 L200.68,225.70 L200.50,225.20 L200.31,224.70 L200.12,224.20 L199.93,223.70 L199.75,223.20 L199.57,222.70 L199.40,222.20 L199.23,221.70 L199.07,221.20 L198.90,220.70 L198.74,220.20 L198.57,219.70 L198.40,219.20 L198.22,218.70 L198.04,218.20 L197.85,217.70 L197.66,217.20 L197.47,216.70 L197.27,216.20 L197.08,215.70 L196.89,215.20 L196.71,214.70 L196.53,214.20 L196.35,213.70 L196.18,213.20 L196.01,212.70 L195.84,212.20 L195.67,211.70 L195.50,211.20 L195.33,210.70 L195.16,210.20 L194.97,209.70 L194.79,209.20 L194.59,208.70 L194.39,208.20 L194.18,207.70 L193.98,207.20 L193.77,206.70 L193.56,206.20 L193.35,205.70 L193.14,205.20 L192.94,204.70 L192.74,204.20 L192.54,203.70 L192.34,203.20 L192.14,202.70 L191.94,202.20 L191.74,201.70 L191.55,201.20 L191.36,200.70 L191.18,200.20 L191.00,199.70 L190.83,199.20 L190.66,198.70 L190.50,198.20 L190.34,197.70 L190.18,197.20 L190.03,196.70 L189.88,196.20 L189.73,195.70 L189.59,195.20 L189.44,194.70 L189.30,194.20 L189.15,193.70 L189.00,193.20 L188.85,192.70 L188.70,192.20 L188.56,191.70 L188.44,191.20 L188.32,190.70 L188.22,190.20 L188.13,189.70 L188.06,189.20 L188.00,188.70 L187.94,188.20 L187.89,187.70 L187.84,187.20 L187.80,186.70 L187.75,186.20 L187.71,185.70 L187.67,185.20 L187.64,184.70 L187.60,184.20 L187.56,183.70 L187.52,183.20 L187.48,182.70 L187.44,182.20 L187.40,181.70 L187.36,181.20 L187.33,180.70 L187.31,180.20 L187.30,179.70 L187.30,179.20 L187.30,178.70 L187.30,178.20 L187.30,177.70 L187.30,177.20 L187.30,176.70 L187.30,176.20 L187.30,175.70 L187.30,175.20 L187.30,174.70 L187.30,174.20 L187.31,173.70 L187.33,173.20 L187.35,172.70 L187.38,172.20 L187.42,171.70 L187.46,171.20 L187.50,170.70 L187.54,170.20 L187.59,169.70 L187.65,169.20 L187.72,168.70 L187.82,168.20 L187.93,167.70 L188.06,167.20 L188.19,166.70 L188.32,166.20 L188.45,165.70 L188.58,165.20 L188.70,164.70 L188.82,164.20 L188.94,163.70 L189.06,163.20 L189.18,162.70 L189.30,162.20 L189.42,161.70 L189.54,161.20 L189.65,160.70 L189.75,160.20 L189.83,159.70 L189.92,159.20 L190.00,158.70 L190.08,158.20 L190.15,157.70 L190.22,157.20 L190.29,156.70 L190.35,156.20 L190.41,155.70 L190.48,155.20 L190.54,154.70 L190.60,154.20 L190.66,153.70 L190.72,153.20 L190.77,152.70 L190.83,152.20 L190.88,151.70 L190.93,151.20 L190.98,150.70 L191.02,150.20 L191.06,149.70 L191.09,149.20 L191.12,148.70 L191.15,148.20 L191.18,147.70 L191.21,147.20 L191.23,146.70 L191.26,146.20 L191.27,145.70 L191.29,145.20 L191.30,144.70 L191.30,144.20 L191.29,143.70 L191.27,143.20 L191.23,142.70 L191.19,142.20 L191.14,141.70 L191.08,141.20 L191.03,140.70 L190.98,140.20 L190.93,139.70 L190.88,139.20 L190.84,138.70 L190.80,138.20 L190.75,137.70 L190.71,137.20 L190.66,136.70 L190.62,136.20 L190.58,135.70 L190.54,135.20 L190.51,134.70 L190.48,134.20 L190.46,133.70 L190.43,133.20 L190.40,132.70 L190.37,132.20 L190.35,131.70 L190.33,131.20 L190.32,130.70 L190.30,130.20 L190.30,129.70 L190.30,129.20 L190.31,128.70 L190.32,128.20 L190.34,127.70 L190.36,127.20 L190.38,126.70 L190.41,126.20 L190.44,125.70 L190.47,125.20 L190.50,124.70 L190.54,124.20 L190.59,123.70 L190.65,123.20 L190.72,122.70 L190.79,122.20 L190.87,121.70 L190.96,121.20 L191.05,120.70 L191.14,120.20 L191.24,119.70 L191.34,119.20 L191.46,118.70 L191.58,118.20 L191.72,117.70 L191.86,117.20 L192.00,116.70 L192.15,116.20 L192.29,115.70 L192.44,115.20 L192.59,114.70 L192.73,114.20 L192.88,113.70 L193.03,113.20 L193.18,112.70 L193.34,112.20 L193.50,111.70 L193.67,111.20 L193.84,110.70 L194.02,110.20 L194.21,109.70 L194.40,109.20 L194.61,108.70 L194.84,108.20 L195.08,107.70 L195.33,107.20 L195.59,106.70 L195.86,106.20 L196.12,105.70 L196.39,105.20 L196.65,104.70 L196.90,104.20 L197.15,103.70 L197.41,103.20 L197.67,102.70 L197.93,102.20 L198.18,101.70 L198.44,101.20 L198.69,100.70 L198.94,100.20 L199.19,99.70 L199.43,99.20 L199.66,98.70 L199.89,98.20 L200.11,97.70 L200.32,97.20 L200.52,96.70 L200.72,96.20 L200.92,95.70 L201.12,95.20 L201.32,94.70 L201.51,94.20 L201.71,93.70 L201.92,93.20 L202.13,92.70 L202.34,92.20 L202.57,91.70 L202.81,91.20 L203.05,90.70 L203.30,90.20 L203.55,89.70 L203.80,89.20 L204.05,88.70 L204.29,88.20 L204.53,87.70 L204.75,87.20 L204.96,86.70 L205.16,86.20 L205.35,85.70 L205.53,85.20 L205.71,84.70 L205.88,84.20 L206.04,83.70 L206.20,83.20 L206.36,82.70 L206.50,82.20 L206.64,81.70 L206.78,81.20 L206.90,80.70 L207.02,80.20 L207.13,79.70 L207.23,79.20 L207.32,78.70 L207.42,78.20 L207.51,77.70 L207.60,77.20 L207.69,76.70 L207.78,76.20 L207.88,75.70 L207.96,75.20 L208.05,74.70 L208.14,74.20 L208.23,73.70 L208.31,73.20 L208.40,72.70 L208.48,72.20 L208.57,71.70 L208.65,71.20 L208.74,70.70 L208.82,70.20 L208.91,69.70 L208.99,69.20 L209.07,68.70 L209.14,68.20 L209.22,67.70 L209.29,67.20 L209.37,66.70 L209.44,66.20 L209.51,65.70 L209.57,65.20 L209.64,64.70 L209.71,64.20 L209.77,63.70 L209.83,63.20 L209.89,62.70 L209.95,62.20 L210.00,61.70 L210.06,61.20 L210.11,60.70 L210.17,60.20 L210.22,59.70 L210.27,59.20 L210.31,58.70 L210.36,58.20 L210.40,57.70 L210.44,57.20 L210.48,56.70 L210.52,56.20 L210.55,55.70 L210.59,55.20 L210.63,54.70 L210.66,54.20 L210.69,53.70 L210.72,53.20 L210.75,52.70 L210.78,52.20 L210.80,51.70 Z" fill="#B2DF8A" class="vo"/>
<line x1="67.6" y1="102.5" x2="67.6" y2="156.5" class="wh"/>
<line x1="67.6" y1="198.3" x2="67.6" y2="227.7" class="wh"/>
<rect x="64.1" y="156.5" width="7.0" height="41.80000000000001" class="bx"/>
<line x1="64.1" y1="174.0" x2="71.1" y2="174.0" class="md"/>
<line x1="139.4" y1="85.2" x2="139.4" y2="129.4" class="wh"/>
<line x1="139.4" y1="191.9" x2="139.4" y2="269.2" class="wh"/>
<rect x="135.9" y="129.4" width="7.0" height="62.5" class="bx"/>
<line x1="135.9" y1="167.9" x2="142.9" y2="167.9" class="md"/>
<line x1="210.8" y1="115.0" x2="210.8" y2="120.6" class="wh"/>
<line x1="210.8" y1="191.8" x2="210.8" y2="268.9" class="wh"/>
<rect x="207.3" y="120.6" width="7.0" height="71.20000000000002" class="bx"/>
<line x1="207.3" y1="167.7" x2="214.3" y2="167.7" class="md"/>
<line x1="22.10" x2="24.8" y1="257.25" y2="257.25" class="tk"/>
<text transform="translate(20.50,260.15) scale(1,1.04)" class="at" text-anchor="end">20</text>
<line x1="22.10" x2="24.8" y1="138.45" y2="138.45" class="tk"/>
<text transform="translate(20.50,141.35) scale(1,1.04)" class="at" text-anchor="end">40</text>
<line x1="22.10" x2="24.8" y1="19.65" y2="19.65" class="tk"/>
<text transform="translate(20.50,22.55) scale(1,1.04)" class="at" text-anchor="end">60</text>
<line x1="67.6" x2="67.6" y1="347.4" y2="350.10" class="tk"/>
<text transform="translate(67.60,357.70) scale(1,1.04)" class="at" text-anchor="middle">No response</text>
<line x1="139.4" x2="139.4" y1="347.4" y2="350.10" class="tk"/>
<text transform="translate(139.40,357.70) scale(1,1.04)" class="at" text-anchor="middle">Response</text>
<line x1="210.8" x2="210.8" y1="347.4" y2="350.10" class="tk"/>
<text transform="translate(210.80,357.70) scale(1,1.04)" class="at" text-anchor="middle">Remitter</text>
<rect x="376.2" y="15.35" width="224.60" height="332.05" fill="#EBEBEB"/>
<line x1="376.2" x2="600.8" y1="332.02" y2="332.02" class="gmin"/>
<line x1="376.2" x2="600.8" y1="272.70" y2="272.70" class="gmin"/>
<line x1="376.2" x2="600.8" y1="213.37" y2="213.37" class="gmin"/>
<line x1="376.2" x2="600.8" y1="154.05" y2="154.05" class="gmin"/>
<line x1="376.2" x2="600.8" y1="94.72" y2="94.72" class="gmin"/>
<line x1="376.2" x2="600.8" y1="35.40" y2="35.40" class="gmin"/>
<line x1="376.2" x2="600.8" y1="302.36" y2="302.36" class="gmaj"/>
<line x1="376.2" x2="600.8" y1="243.04" y2="243.04" class="gmaj"/>
<line x1="376.2" x2="600.8" y1="183.71" y2="183.71" class="gmaj"/>
<line x1="376.2" x2="600.8" y1="124.39" y2="124.39" class="gmaj"/>
<line x1="376.2" x2="600.8" y1="65.06" y2="65.06" class="gmaj"/>
<line x1="418.3" x2="418.3" y1="15.35" y2="347.4" class="gmaj"/>
<line x1="488.6" x2="488.6" y1="15.35" y2="347.4" class="gmaj"/>
<line x1="558.85" x2="558.85" y1="15.35" y2="347.4" class="gmaj"/>
<path d="M418.30,179.10 L418.36,179.60 L418.43,180.10 L418.50,180.60 L418.57,181.10 L418.64,181.60 L418.71,182.10 L418.79,182.60 L418.86,183.10 L418.94,183.60 L419.02,184.10 L419.13,184.60 L419.26,185.10 L419.45,185.60 L419.65,186.10 L419.86,186.60 L420.06,187.10 L420.25,187.60 L420.45,188.10 L420.65,188.60 L420.87,189.10 L421.10,189.60 L421.36,190.10 L421.66,190.60 L421.97,191.10 L422.27,191.60 L422.55,192.10 L422.81,192.60 L423.05,193.10 L423.29,193.60 L423.52,194.10 L423.74,194.60 L423.97,195.10 L424.18,195.60 L424.39,196.10 L424.59,196.60 L424.77,197.10 L424.95,197.60 L425.13,198.10 L425.29,198.60 L425.43,199.10 L425.54,199.60 L425.63,200.10 L425.72,200.60 L425.79,201.10 L425.87,201.60 L425.95,202.10 L426.02,202.60 L426.10,203.10 L426.18,203.60 L426.28,204.10 L426.40,204.60 L426.55,205.10 L426.73,205.60 L426.93,206.10 L427.15,206.60 L427.41,207.10 L427.71,207.60 L428.05,208.10 L428.45,208.60 L428.90,209.10 L429.41,209.60 L430.07,210.10 L430.89,210.60 L431.81,211.10 L432.78,211.60 L433.73,212.10 L434.64,212.60 L435.57,213.10 L436.51,213.60 L437.46,214.10 L438.41,214.60 L439.36,215.10 L440.34,215.60 L441.30,216.10 L442.25,216.60 L443.13,217.10 L443.97,217.60 L444.78,218.10 L445.56,218.60 L446.28,219.10 L446.90,219.60 L447.46,220.10 L447.97,220.60 L448.44,221.10 L448.86,221.60 L449.20,222.10 L449.52,222.60 L449.81,223.10 L449.98,223.60 L450.00,224.10 L450.00,224.60 L450.00,225.10 L449.85,225.60 L449.56,226.10 L449.17,226.60 L448.76,227.10 L448.35,227.60 L447.87,228.10 L447.32,228.60 L446.72,229.10 L446.06,229.60 L445.31,230.10 L444.50,230.60 L443.66,231.10 L442.82,231.60 L442.02,232.10 L441.21,232.60 L440.39,233.10 L439.57,233.60 L438.76,234.10 L437.96,234.60 L437.16,235.10 L436.36,235.60 L435.57,236.10 L434.77,236.60 L433.98,237.10 L433.18,237.60 L432.38,238.10 L431.58,238.60 L430.78,239.10 L429.98,239.60 L429.18,240.10 L428.36,240.60 L427.53,241.10 L426.73,241.60 L425.98,242.10 L425.29,242.60 L424.60,243.10 L423.95,243.60 L423.36,244.10 L422.88,244.60 L422.49,245.10 L422.14,245.60 L421.82,246.10 L421.56,246.60 L421.38,247.10 L421.25,247.60 L421.13,248.10 L421.04,248.60 L420.97,249.10 L420.95,249.60 L420.96,250.10 L420.99,250.60 L421.04,251.10 L421.09,251.60 L421.15,252.10 L421.23,252.60 L421.34,253.10 L421.47,253.60 L421.58,254.10 L421.66,254.60 L421.73,255.10 L421.80,255.60 L421.86,256.10 L421.92,256.60 L421.97,257.10 L422.02,257.60 L422.07,258.10 L422.10,258.60 L422.13,259.10 L422.16,259.60 L422.18,260.10 L422.21,260.60 L422.23,261.10 L422.25,261.60 L422.26,262.10 L422.28,262.60 L422.29,263.10 L422.30,263.60 L422.30,264.10 L422.29,264.60 L422.28,265.10 L422.24,265.60 L422.20,266.10 L422.14,266.60 L422.08,267.10 L422.02,267.60 L421.95,268.10 L421.87,268.60 L421.80,269.10 L421.71,269.60 L421.61,270.10 L421.49,270.60 L421.37,271.10 L421.25,271.60 L421.13,272.10 L421.02,272.60 L420.91,273.10 L420.80,273.60 L420.69,274.10 L420.58,274.60 L420.46,275.10 L420.35,275.60 L420.23,276.10 L420.11,276.60 L419.99,277.10 L419.88,277.60 L419.75,278.10 L419.63,278.60 L419.51,279.10 L419.39,279.60 L419.28,280.10 L419.17,280.60 L419.06,281.10 L418.96,281.60 L418.87,282.10 L418.80,282.60 L418.74,283.10 L418.68,283.60 L418.63,284.10 L418.60,284.60 L418.60,285.10 L418.63,285.60 L418.66,286.10 L418.71,286.60 L418.76,287.10 L418.83,287.60 L418.92,288.10 L419.02,288.60 L419.12,289.10 L419.22,289.60 L419.33,290.10 L419.45,290.60 L419.56,291.10 L419.68,291.60 L419.78,292.10 L419.87,292.60 L419.96,293.10 L420.04,293.60 L420.12,294.10 L420.21,294.60 L420.32,295.10 L420.46,295.60 L420.63,296.10 L420.80,296.60 L420.98,297.10 L421.13,297.60 L421.29,298.10 L421.46,298.60 L421.63,299.10 L421.79,299.60 L421.94,300.10 L422.06,300.60 L422.15,301.10 L422.20,301.60 L422.21,302.10 L422.22,302.60 L422.23,303.10 L422.24,303.60 L422.25,304.10 L422.26,304.60 L422.27,305.10 L422.27,305.60 L422.28,306.10 L422.28,306.60 L422.29,307.10 L422.29,307.60 L422.29,308.10 L422.30,308.60 L422.30,309.10 L422.30,309.60 L422.30,310.10 L422.30,310.60 L422.28,311.10 L422.26,311.60 L422.24,312.10 L422.20,312.60 L422.16,313.10 L422.11,313.60 L422.06,314.10 L422.00,314.60 L421.94,315.10 L421.88,315.60 L421.80,316.10 L421.73,316.60 L421.64,317.10 L421.49,317.60 L421.30,318.10 L421.09,318.60 L420.87,319.10 L420.66,319.60 L420.50,320.10 L420.36,320.60 L420.24,321.10 L420.11,321.60 L420.00,322.10 L419.88,322.60 L419.78,323.10 L419.68,323.60 L419.58,324.10 L419.49,324.60 L419.40,325.10 L419.32,325.60 L419.24,326.10 L419.17,326.60 L419.10,327.10 L419.03,327.60 L418.96,328.10 L418.89,328.60 L418.81,329.10 L418.74,329.60 L418.67,330.10 L418.59,330.60 L418.52,331.10 L418.45,331.60 L418.37,332.10 L418.30,332.60 L418.30,332.60 L418.30,332.60 L418.30,332.60 L418.23,332.10 L418.15,331.60 L418.08,331.10 L418.01,330.60 L417.93,330.10 L417.86,329.60 L417.79,329.10 L417.71,328.60 L417.64,328.10 L417.57,327.60 L417.50,327.10 L417.43,326.60 L417.36,326.10 L417.28,325.60 L417.20,325.10 L417.11,324.60 L417.02,324.10 L416.92,323.60 L416.82,323.10 L416.72,322.60 L416.60,322.10 L416.49,321.60 L416.36,321.10 L416.24,320.60 L416.10,320.10 L415.94,319.60 L415.73,319.10 L415.51,318.60 L415.30,318.10 L415.11,317.60 L414.96,317.10 L414.87,316.60 L414.80,316.10 L414.72,315.60 L414.66,315.10 L414.60,314.60 L414.54,314.10 L414.49,313.60 L414.44,313.10 L414.40,312.60 L414.36,312.10 L414.34,311.60 L414.32,311.10 L414.30,310.60 L414.30,310.10 L414.30,309.60 L414.30,309.10 L414.30,308.60 L414.31,308.10 L414.31,307.60 L414.31,307.10 L414.32,306.60 L414.32,306.10 L414.33,305.60 L414.33,305.10 L414.34,304.60 L414.35,304.10 L414.36,303.60 L414.37,303.10 L414.38,302.60 L414.39,302.10 L414.40,301.60 L414.45,301.10 L414.54,300.60 L414.66,300.10 L414.81,299.60 L414.97,299.10 L415.14,298.60 L415.31,298.10 L415.47,297.60 L415.62,297.10 L415.80,296.60 L415.97,296.10 L416.14,295.60 L416.28,295.10 L416.39,294.60 L416.48,294.10 L416.56,293.60 L416.64,293.10 L416.73,292.60 L416.82,292.10 L416.92,291.60 L417.04,291.10 L417.15,290.60 L417.27,290.10 L417.38,289.60 L417.48,289.10 L417.58,288.60 L417.68,288.10 L417.77,287.60 L417.84,287.10 L417.89,286.60 L417.94,286.10 L417.97,285.60 L418.00,285.10 L418.00,284.60 L417.97,284.10 L417.92,283.60 L417.86,283.10 L417.80,282.60 L417.73,282.10 L417.64,281.60 L417.54,281.10 L417.43,280.60 L417.32,280.10 L417.21,279.60 L417.09,279.10 L416.97,278.60 L416.85,278.10 L416.72,277.60 L416.61,277.10 L416.49,276.60 L416.37,276.10 L416.25,275.60 L416.14,275.10 L416.02,274.60 L415.91,274.10 L415.80,273.60 L415.69,273.10 L415.58,272.60 L415.47,272.10 L415.35,271.60 L415.23,271.10 L415.11,270.60 L414.99,270.10 L414.89,269.60 L414.80,269.10 L414.73,268.60 L414.65,268.10 L414.58,267.60 L414.52,267.10 L414.46,266.60 L414.40,266.10 L414.36,265.60 L414.32,265.10 L414.31,264.60 L414.30,264.10 L414.30,263.60 L414.31,263.10 L414.32,262.60 L414.34,262.10 L414.35,261.60 L414.37,261.10 L414.39,260.60 L414.42,260.10 L414.44,259.60 L414.47,259.10 L414.50,258.60 L414.53,258.10 L414.58,257.60 L414.63,257.10 L414.68,256.60 L414.74,256.10 L414.80,255.60 L414.87,255.10 L414.94,254.60 L415.02,254.10 L415.13,253.60 L415.26,253.10 L415.37,252.60 L415.45,252.10 L415.51,251.60 L415.56,251.10 L415.61,250.60 L415.64,250.10 L415.65,249.60 L415.63,249.10 L415.56,248.60 L415.47,248.10 L415.35,247.60 L415.22,247.10 L415.04,246.60 L414.78,246.10 L414.46,245.60 L414.11,245.10 L413.72,244.60 L413.24,244.10 L412.65,243.60 L412.00,243.10 L411.31,242.60 L410.62,242.10 L409.87,241.60 L409.07,241.10 L408.24,240.60 L407.42,240.10 L406.62,239.60 L405.82,239.10 L405.02,238.60 L404.22,238.10 L403.42,237.60 L402.62,237.10 L401.83,236.60 L401.03,236.10 L400.24,235.60 L399.44,235.10 L398.64,234.60 L397.84,234.10 L397.03,233.60 L396.21,233.10 L395.39,232.60 L394.58,232.10 L393.78,231.60 L392.94,231.10 L392.10,230.60 L391.29,230.10 L390.54,229.60 L389.88,229.10 L389.28,228.60 L388.73,228.10 L388.25,227.60 L387.84,227.10 L387.43,226.60 L387.04,226.10 L386.75,225.60 L386.60,225.10 L386.60,224.60 L386.60,224.10 L386.62,223.60 L386.79,223.10 L387.08,222.60 L387.40,222.10 L387.74,221.60 L388.16,221.10 L388.63,220.60 L389.14,220.10 L389.70,219.60 L390.32,219.10 L391.04,218.60 L391.82,218.10 L392.63,217.60 L393.47,217.10 L394.35,216.60 L395.30,216.10 L396.26,215.60 L397.24,215.10 L398.19,214.60 L399.14,214.10 L400.09,213.60 L401.03,213.10 L401.96,212.60 L402.87,212.10 L403.82,211.60 L404.79,211.10 L405.71,210.60 L406.53,210.10 L407.19,209.60 L407.70,209.10 L408.15,208.60 L408.55,208.10 L408.89,207.60 L409.19,207.10 L409.45,206.60 L409.67,206.10 L409.87,205.60 L410.05,205.10 L410.20,204.60 L410.32,204.10 L410.42,203.60 L410.50,203.10 L410.58,202.60 L410.65,202.10 L410.73,201.60 L410.81,201.10 L410.88,200.60 L410.97,200.10 L411.06,199.60 L411.17,199.10 L411.31,198.60 L411.47,198.10 L411.65,197.60 L411.83,197.10 L412.01,196.60 L412.21,196.10 L412.42,195.60 L412.63,195.10 L412.86,194.60 L413.08,194.10 L413.31,193.60 L413.55,193.10 L413.79,192.60 L414.05,192.10 L414.33,191.60 L414.63,191.10 L414.94,190.60 L415.24,190.10 L415.50,189.60 L415.73,189.10 L415.95,188.60 L416.15,188.10 L416.35,187.60 L416.54,187.10 L416.74,186.60 L416.95,186.10 L417.15,185.60 L417.34,185.10 L417.47,184.60 L417.58,184.10 L417.66,183.60 L417.74,183.10 L417.81,182.60 L417.89,182.10 L417.96,181.60 L418.03,181.10 L418.10,180.60 L418.17,180.10 L418.24,179.60 L418.30,179.10 Z" fill="#A6CEE3" class="vo"/>
<path d="M488.60,30.00 L488.62,30.50 L488.64,31.00 L488.66,31.50 L488.68,32.00 L488.70,32.50 L488.71,33.00 L488.73,33.50 L488.75,34.00 L488.77,34.50 L488.79,35.00 L488.81,35.50 L488.83,36.00 L488.84,36.50 L488.86,37.00 L488.88,37.50 L488.90,38.00 L488.92,38.50 L488.94,39.00 L488.95,39.50 L488.97,40.00 L488.98,40.50 L489.00,41.00 L489.02,41.50 L489.03,42.00 L489.05,42.50 L489.07,43.00 L489.09,43.50 L489.11,44.00 L489.13,44.50 L489.15,45.00 L489.17,45.50 L489.20,46.00 L489.22,46.50 L489.25,47.00 L489.28,47.50 L489.31,48.00 L489.34,48.50 L489.38,49.00 L489.41,49.50 L489.45,50.00 L489.49,50.50 L489.53,51.00 L489.58,51.50 L489.63,52.00 L489.68,52.50 L489.74,53.00 L489.80,53.50 L489.86,54.00 L489.93,54.50 L490.00,55.00 L490.08,55.50 L490.17,56.00 L490.27,56.50 L490.38,57.00 L490.50,57.50 L490.61,58.00 L490.73,58.50 L490.85,59.00 L490.96,59.50 L491.07,60.00 L491.18,60.50 L491.29,61.00 L491.40,61.50 L491.51,62.00 L491.62,62.50 L491.73,63.00 L491.83,63.50 L491.93,64.00 L492.02,64.50 L492.10,65.00 L492.17,65.50 L492.24,66.00 L492.31,66.50 L492.37,67.00 L492.44,67.50 L492.50,68.00 L492.56,68.50 L492.62,69.00 L492.69,69.50 L492.75,70.00 L492.82,70.50 L492.89,71.00 L492.95,71.50 L493.02,72.00 L493.09,72.50 L493.15,73.00 L493.22,73.50 L493.29,74.00 L493.35,74.50 L493.41,75.00 L493.47,75.50 L493.54,76.00 L493.60,76.50 L493.66,77.00 L493.72,77.50 L493.78,78.00 L493.84,78.50 L493.90,79.00 L493.96,79.50 L494.03,80.00 L494.09,80.50 L494.16,81.00 L494.23,81.50 L494.29,82.00 L494.36,82.50 L494.43,83.00 L494.50,83.50 L494.57,84.00 L494.64,84.50 L494.71,85.00 L494.79,85.50 L494.86,86.00 L494.93,86.50 L495.01,87.00 L495.08,87.50 L495.16,88.00 L495.23,88.50 L495.31,89.00 L495.39,89.50 L495.46,90.00 L495.54,90.50 L495.62,91.00 L495.70,91.50 L495.79,92.00 L495.88,92.50 L495.97,93.00 L496.07,93.50 L496.17,94.00 L496.28,94.50 L496.39,95.00 L496.50,95.50 L496.62,96.00 L496.74,96.50 L496.87,97.00 L497.00,97.50 L497.13,98.00 L497.28,98.50 L497.43,99.00 L497.59,99.50 L497.76,100.00 L497.92,100.50 L498.09,101.00 L498.26,101.50 L498.42,102.00 L498.57,102.50 L498.72,103.00 L498.86,103.50 L499.00,104.00 L499.13,104.50 L499.26,105.00 L499.40,105.50 L499.53,106.00 L499.67,106.50 L499.81,107.00 L499.95,107.50 L500.10,108.00 L500.26,108.50 L500.43,109.00 L500.60,109.50 L500.77,110.00 L500.94,110.50 L501.09,111.00 L501.24,111.50 L501.36,112.00 L501.47,112.50 L501.56,113.00 L501.65,113.50 L501.73,114.00 L501.81,114.50 L501.88,115.00 L501.95,115.50 L502.01,116.00 L502.07,116.50 L502.13,117.00 L502.18,117.50 L502.23,118.00 L502.28,118.50 L502.33,119.00 L502.37,119.50 L502.42,120.00 L502.46,120.50 L502.49,121.00 L502.52,121.50 L502.55,122.00 L502.58,122.50 L502.60,123.00 L502.63,123.50 L502.65,124.00 L502.67,124.50 L502.69,125.00 L502.70,125.50 L502.70,126.00 L502.70,126.50 L502.69,127.00 L502.68,127.50 L502.67,128.00 L502.65,128.50 L502.62,129.00 L502.57,129.50 L502.51,130.00 L502.43,130.50 L502.35,131.00 L502.26,131.50 L502.18,132.00 L502.10,132.50 L502.03,133.00 L501.95,133.50 L501.88,134.00 L501.80,134.50 L501.72,135.00 L501.64,135.50 L501.56,136.00 L501.47,136.50 L501.38,137.00 L501.29,137.50 L501.20,138.00 L501.11,138.50 L501.01,139.00 L500.92,139.50 L500.81,140.00 L500.71,140.50 L500.59,141.00 L500.48,141.50 L500.35,142.00 L500.22,142.50 L500.08,143.00 L499.93,143.50 L499.77,144.00 L499.60,144.50 L499.40,145.00 L499.17,145.50 L498.92,146.00 L498.66,146.50 L498.40,147.00 L498.16,147.50 L497.94,148.00 L497.75,148.50 L497.57,149.00 L497.40,149.50 L497.23,150.00 L497.08,150.50 L496.93,151.00 L496.80,151.50 L496.67,152.00 L496.55,152.50 L496.43,153.00 L496.33,153.50 L496.24,154.00 L496.17,154.50 L496.12,155.00 L496.07,155.50 L496.02,156.00 L495.98,156.50 L495.94,157.00 L495.90,157.50 L495.86,158.00 L495.83,158.50 L495.79,159.00 L495.76,159.50 L495.73,160.00 L495.70,160.50 L495.67,161.00 L495.64,161.50 L495.61,162.00 L495.58,162.50 L495.55,163.00 L495.51,163.50 L495.48,164.00 L495.44,164.50 L495.41,165.00 L495.37,165.50 L495.33,166.00 L495.29,166.50 L495.25,167.00 L495.20,167.50 L495.16,168.00 L495.11,168.50 L495.06,169.00 L495.01,169.50 L494.95,170.00 L494.89,170.50 L494.83,171.00 L494.76,171.50 L494.70,172.00 L494.63,172.50 L494.57,173.00 L494.50,173.50 L494.43,174.00 L494.36,174.50 L494.29,175.00 L494.22,175.50 L494.15,176.00 L494.08,176.50 L494.00,177.00 L493.93,177.50 L493.86,178.00 L493.79,178.50 L493.72,179.00 L493.65,179.50 L493.58,180.00 L493.51,180.50 L493.44,181.00 L493.37,181.50 L493.30,182.00 L493.22,182.50 L493.14,183.00 L493.04,183.50 L492.94,184.00 L492.83,184.50 L492.72,185.00 L492.60,185.50 L492.47,186.00 L492.35,186.50 L492.22,187.00 L492.09,187.50 L491.95,188.00 L491.81,188.50 L491.67,189.00 L491.52,189.50 L491.39,190.00 L491.25,190.50 L491.13,191.00 L491.00,191.50 L490.87,192.00 L490.75,192.50 L490.62,193.00 L490.50,193.50 L490.39,194.00 L490.28,194.50 L490.18,195.00 L490.08,195.50 L490.00,196.00 L489.92,196.50 L489.84,197.00 L489.77,197.50 L489.69,198.00 L489.63,198.50 L489.56,199.00 L489.51,199.50 L489.45,200.00 L489.41,200.50 L489.37,201.00 L489.33,201.50 L489.29,202.00 L489.26,202.50 L489.23,203.00 L489.20,203.50 L489.17,204.00 L489.15,204.50 L489.12,205.00 L489.10,205.50 L489.08,206.00 L489.06,206.50 L489.03,207.00 L489.01,207.50 L489.00,208.00 L488.98,208.50 L488.96,209.00 L488.94,209.50 L488.92,210.00 L488.91,210.50 L488.89,211.00 L488.87,211.50 L488.85,212.00 L488.83,212.50 L488.81,213.00 L488.79,213.50 L488.77,214.00 L488.75,214.50 L488.73,215.00 L488.71,215.50 L488.69,216.00 L488.67,216.50 L488.65,217.00 L488.63,217.50 L488.61,218.00 L488.60,218.20 L488.60,218.20 L488.59,218.00 L488.57,217.50 L488.55,217.00 L488.53,216.50 L488.51,216.00 L488.49,215.50 L488.47,215.00 L488.45,214.50 L488.43,214.00 L488.41,213.50 L488.39,213.00 L488.37,212.50 L488.35,212.00 L488.33,211.50 L488.31,211.00 L488.29,210.50 L488.28,210.00 L488.26,209.50 L488.24,209.00 L488.22,208.50 L488.20,208.00 L488.19,207.50 L488.17,207.00 L488.14,206.50 L488.12,206.00 L488.10,205.50 L488.08,205.00 L488.05,204.50 L488.03,204.00 L488.00,203.50 L487.97,203.00 L487.94,202.50 L487.91,202.00 L487.87,201.50 L487.83,201.00 L487.79,200.50 L487.75,200.00 L487.69,199.50 L487.64,199.00 L487.57,198.50 L487.51,198.00 L487.43,197.50 L487.36,197.00 L487.28,196.50 L487.20,196.00 L487.12,195.50 L487.02,195.00 L486.92,194.50 L486.81,194.00 L486.70,193.50 L486.58,193.00 L486.45,192.50 L486.33,192.00 L486.20,191.50 L486.07,191.00 L485.95,190.50 L485.81,190.00 L485.68,189.50 L485.53,189.00 L485.39,188.50 L485.25,188.00 L485.11,187.50 L484.98,187.00 L484.85,186.50 L484.73,186.00 L484.60,185.50 L484.48,185.00 L484.37,184.50 L484.26,184.00 L484.16,183.50 L484.06,183.00 L483.98,182.50 L483.90,182.00 L483.83,181.50 L483.76,181.00 L483.69,180.50 L483.62,180.00 L483.55,179.50 L483.48,179.00 L483.41,178.50 L483.34,178.00 L483.27,177.50 L483.20,177.00 L483.12,176.50 L483.05,176.00 L482.98,175.50 L482.91,175.00 L482.84,174.50 L482.77,174.00 L482.70,173.50 L482.63,173.00 L482.57,172.50 L482.50,172.00 L482.44,171.50 L482.37,171.00 L482.31,170.50 L482.25,170.00 L482.19,169.50 L482.14,169.00 L482.09,168.50 L482.04,168.00 L482.00,167.50 L481.95,167.00 L481.91,166.50 L481.87,166.00 L481.83,165.50 L481.79,165.00 L481.76,164.50 L481.72,164.00 L481.69,163.50 L481.65,163.00 L481.62,162.50 L481.59,162.00 L481.56,161.50 L481.53,161.00 L481.50,160.50 L481.47,160.00 L481.44,159.50 L481.41,159.00 L481.37,158.50 L481.34,158.00 L481.30,157.50 L481.26,157.00 L481.22,156.50 L481.18,156.00 L481.13,155.50 L481.08,155.00 L481.03,154.50 L480.96,154.00 L480.87,153.50 L480.77,153.00 L480.65,152.50 L480.53,152.00 L480.40,151.50 L480.27,151.00 L480.12,150.50 L479.97,150.00 L479.80,149.50 L479.63,149.00 L479.45,148.50 L479.26,148.00 L479.04,147.50 L478.80,147.00 L478.54,146.50 L478.28,146.00 L478.03,145.50 L477.80,145.00 L477.60,144.50 L477.43,144.00 L477.27,143.50 L477.12,143.00 L476.98,142.50 L476.85,142.00 L476.72,141.50 L476.61,141.00 L476.49,140.50 L476.39,140.00 L476.28,139.50 L476.19,139.00 L476.09,138.50 L476.00,138.00 L475.91,137.50 L475.82,137.00 L475.73,136.50 L475.64,136.00 L475.56,135.50 L475.48,135.00 L475.40,134.50 L475.32,134.00 L475.25,133.50 L475.17,133.00 L475.10,132.50 L475.02,132.00 L474.94,131.50 L474.85,131.00 L474.77,130.50 L474.69,130.00 L474.63,129.50 L474.58,129.00 L474.55,128.50 L474.53,128.00 L474.52,127.50 L474.51,127.00 L474.50,126.50 L474.50,126.00 L474.50,125.50 L474.51,125.00 L474.53,124.50 L474.55,124.00 L474.57,123.50 L474.60,123.00 L474.62,122.50 L474.65,122.00 L474.68,121.50 L474.71,121.00 L474.74,120.50 L474.78,120.00 L474.83,119.50 L474.87,119.00 L474.92,118.50 L474.97,118.00 L475.02,117.50 L475.07,117.00 L475.13,116.50 L475.19,116.00 L475.25,115.50 L475.32,115.00 L475.39,114.50 L475.47,114.00 L475.55,113.50 L475.64,113.00 L475.73,112.50 L475.84,112.00 L475.96,111.50 L476.11,111.00 L476.26,110.50 L476.43,110.00 L476.60,109.50 L476.77,109.00 L476.94,108.50 L477.10,108.00 L477.25,107.50 L477.39,107.00 L477.53,106.50 L477.67,106.00 L477.80,105.50 L477.94,105.00 L478.07,104.50 L478.20,104.00 L478.34,103.50 L478.48,103.00 L478.63,102.50 L478.78,102.00 L478.94,101.50 L479.11,101.00 L479.28,100.50 L479.44,100.00 L479.61,99.50 L479.77,99.00 L479.92,98.50 L480.07,98.00 L480.20,97.50 L480.33,97.00 L480.46,96.50 L480.58,96.00 L480.70,95.50 L480.81,95.00 L480.92,94.50 L481.03,94.00 L481.13,93.50 L481.23,93.00 L481.32,92.50 L481.41,92.00 L481.50,91.50 L481.58,91.00 L481.66,90.50 L481.74,90.00 L481.81,89.50 L481.89,89.00 L481.97,88.50 L482.04,88.00 L482.12,87.50 L482.19,87.00 L482.27,86.50 L482.34,86.00 L482.41,85.50 L482.49,85.00 L482.56,84.50 L482.63,84.00 L482.70,83.50 L482.77,83.00 L482.84,82.50 L482.91,82.00 L482.97,81.50 L483.04,81.00 L483.11,80.50 L483.17,80.00 L483.24,79.50 L483.30,79.00 L483.36,78.50 L483.42,78.00 L483.48,77.50 L483.54,77.00 L483.60,76.50 L483.66,76.00 L483.73,75.50 L483.79,75.00 L483.85,74.50 L483.91,74.00 L483.98,73.50 L484.05,73.00 L484.11,72.50 L484.18,72.00 L484.25,71.50 L484.31,71.00 L484.38,70.50 L484.45,70.00 L484.51,69.50 L484.58,69.00 L484.64,68.50 L484.70,68.00 L484.76,67.50 L484.83,67.00 L484.89,66.50 L484.96,66.00 L485.03,65.50 L485.10,65.00 L485.18,64.50 L485.27,64.00 L485.37,63.50 L485.47,63.00 L485.58,62.50 L485.69,62.00 L485.80,61.50 L485.91,61.00 L486.02,60.50 L486.13,60.00 L486.24,59.50 L486.35,59.00 L486.47,58.50 L486.59,58.00 L486.70,57.50 L486.82,57.00 L486.93,56.50 L487.03,56.00 L487.12,55.50 L487.20,55.00 L487.27,54.50 L487.34,54.00 L487.40,53.50 L487.46,53.00 L487.52,52.50 L487.57,52.00 L487.62,51.50 L487.67,51.00 L487.71,50.50 L487.75,50.00 L487.79,49.50 L487.82,49.00 L487.86,48.50 L487.89,48.00 L487.92,47.50 L487.95,47.00 L487.98,46.50 L488.00,46.00 L488.03,45.50 L488.05,45.00 L488.07,44.50 L488.09,44.00 L488.11,43.50 L488.13,43.00 L488.15,42.50 L488.17,42.00 L488.18,41.50 L488.20,41.00 L488.22,40.50 L488.23,40.00 L488.25,39.50 L488.26,39.00 L488.28,38.50 L488.30,38.00 L488.32,37.50 L488.34,37.00 L488.36,36.50 L488.37,36.00 L488.39,35.50 L488.41,35.00 L488.43,34.50 L488.45,34.00 L488.47,33.50 L488.49,33.00 L488.50,32.50 L488.52,32.00 L488.54,31.50 L488.56,31.00 L488.58,30.50 L488.60,30.00 Z" fill="#1F78B4" class="vo"/>
<path d="M558.85,37.40 L558.89,37.90 L558.92,38.40 L558.96,38.90 L558.99,39.40 L559.02,39.90 L559.06,40.40 L559.09,40.90 L559.12,41.40 L559.14,41.90 L559.17,42.40 L559.20,42.90 L559.22,43.40 L559.24,43.90 L559.27,44.40 L559.29,44.90 L559.32,45.40 L559.35,45.90 L559.38,46.40 L559.42,46.90 L559.45,47.40 L559.49,47.90 L559.53,48.40 L559.57,48.90 L559.62,49.40 L559.67,49.90 L559.73,50.40 L559.81,50.90 L559.89,51.40 L559.98,51.90 L560.08,52.40 L560.18,52.90 L560.28,53.40 L560.39,53.90 L560.50,54.40 L560.62,54.90 L560.74,55.40 L560.87,55.90 L561.01,56.40 L561.16,56.90 L561.31,57.40 L561.47,57.90 L561.63,58.40 L561.79,58.90 L561.95,59.40 L562.12,59.90 L562.28,60.40 L562.46,60.90 L562.65,61.40 L562.83,61.90 L563.03,62.40 L563.22,62.90 L563.41,63.40 L563.60,63.90 L563.78,64.40 L563.95,64.90 L564.12,65.40 L564.28,65.90 L564.44,66.40 L564.60,66.90 L564.75,67.40 L564.90,67.90 L565.06,68.40 L565.21,68.90 L565.36,69.40 L565.51,69.90 L565.66,70.40 L565.82,70.90 L565.97,71.40 L566.12,71.90 L566.27,72.40 L566.42,72.90 L566.57,73.40 L566.71,73.90 L566.85,74.40 L566.98,74.90 L567.11,75.40 L567.23,75.90 L567.36,76.40 L567.48,76.90 L567.59,77.40 L567.71,77.90 L567.83,78.40 L567.95,78.90 L568.08,79.40 L568.20,79.90 L568.32,80.40 L568.45,80.90 L568.57,81.40 L568.70,81.90 L568.82,82.40 L568.95,82.90 L569.08,83.40 L569.21,83.90 L569.35,84.40 L569.49,84.90 L569.65,85.40 L569.81,85.90 L569.98,86.40 L570.14,86.90 L570.30,87.40 L570.46,87.90 L570.60,88.40 L570.73,88.90 L570.84,89.40 L570.94,89.90 L571.02,90.40 L571.10,90.90 L571.17,91.40 L571.25,91.90 L571.33,92.40 L571.42,92.90 L571.53,93.40 L571.65,93.90 L571.79,94.40 L571.95,94.90 L572.12,95.40 L572.30,95.90 L572.50,96.40 L572.71,96.90 L572.92,97.40 L573.15,97.90 L573.40,98.40 L573.68,98.90 L573.98,99.40 L574.31,99.90 L574.64,100.40 L574.98,100.90 L575.32,101.40 L575.65,101.90 L575.97,102.40 L576.27,102.90 L576.57,103.40 L576.86,103.90 L577.16,104.40 L577.46,104.90 L577.75,105.40 L578.02,105.90 L578.29,106.40 L578.54,106.90 L578.76,107.40 L578.97,107.90 L579.17,108.40 L579.36,108.90 L579.54,109.40 L579.70,109.90 L579.83,110.40 L579.94,110.90 L580.06,111.40 L580.16,111.90 L580.26,112.40 L580.32,112.90 L580.35,113.40 L580.34,113.90 L580.30,114.40 L580.23,114.90 L580.15,115.40 L580.07,115.90 L579.97,116.40 L579.84,116.90 L579.68,117.40 L579.50,117.90 L579.30,118.40 L579.09,118.90 L578.86,119.40 L578.58,119.90 L578.27,120.40 L577.93,120.90 L577.59,121.40 L577.25,121.90 L576.92,122.40 L576.58,122.90 L576.24,123.40 L575.89,123.90 L575.55,124.40 L575.22,124.90 L574.89,125.40 L574.58,125.90 L574.28,126.40 L573.97,126.90 L573.65,127.40 L573.32,127.90 L572.96,128.40 L572.59,128.90 L572.19,129.40 L571.80,129.90 L571.40,130.40 L571.02,130.90 L570.66,131.40 L570.30,131.90 L569.94,132.40 L569.60,132.90 L569.25,133.40 L568.92,133.90 L568.59,134.40 L568.26,134.90 L567.94,135.40 L567.62,135.90 L567.31,136.40 L567.00,136.90 L566.70,137.40 L566.41,137.90 L566.12,138.40 L565.84,138.90 L565.57,139.40 L565.31,139.90 L565.05,140.40 L564.80,140.90 L564.55,141.40 L564.31,141.90 L564.07,142.40 L563.83,142.90 L563.60,143.40 L563.39,143.90 L563.19,144.40 L563.00,144.90 L562.83,145.40 L562.66,145.90 L562.50,146.40 L562.34,146.90 L562.19,147.40 L562.04,147.90 L561.89,148.40 L561.75,148.90 L561.60,149.40 L561.45,149.90 L561.29,150.40 L561.13,150.90 L560.98,151.40 L560.82,151.90 L560.68,152.40 L560.54,152.90 L560.42,153.40 L560.31,153.90 L560.21,154.40 L560.13,154.90 L560.05,155.40 L559.97,155.90 L559.90,156.40 L559.83,156.90 L559.77,157.40 L559.71,157.90 L559.66,158.40 L559.62,158.90 L559.58,159.40 L559.54,159.90 L559.50,160.40 L559.47,160.90 L559.44,161.40 L559.42,161.90 L559.39,162.40 L559.36,162.90 L559.34,163.40 L559.31,163.90 L559.28,164.40 L559.26,164.90 L559.23,165.40 L559.20,165.90 L559.17,166.40 L559.14,166.90 L559.11,167.40 L559.08,167.90 L559.05,168.40 L559.02,168.90 L558.99,169.40 L558.96,169.90 L558.93,170.40 L558.90,170.90 L558.87,171.40 L558.85,171.70 L558.85,171.70 L558.83,171.40 L558.80,170.90 L558.77,170.40 L558.74,169.90 L558.71,169.40 L558.68,168.90 L558.65,168.40 L558.62,167.90 L558.59,167.40 L558.56,166.90 L558.53,166.40 L558.50,165.90 L558.47,165.40 L558.44,164.90 L558.42,164.40 L558.39,163.90 L558.36,163.40 L558.34,162.90 L558.31,162.40 L558.28,161.90 L558.26,161.40 L558.23,160.90 L558.20,160.40 L558.16,159.90 L558.12,159.40 L558.08,158.90 L558.04,158.40 L557.99,157.90 L557.93,157.40 L557.87,156.90 L557.80,156.40 L557.73,155.90 L557.65,155.40 L557.57,154.90 L557.49,154.40 L557.39,153.90 L557.28,153.40 L557.16,152.90 L557.02,152.40 L556.88,151.90 L556.72,151.40 L556.57,150.90 L556.41,150.40 L556.25,149.90 L556.10,149.40 L555.95,148.90 L555.81,148.40 L555.66,147.90 L555.51,147.40 L555.36,146.90 L555.20,146.40 L555.04,145.90 L554.87,145.40 L554.70,144.90 L554.51,144.40 L554.31,143.90 L554.10,143.40 L553.87,142.90 L553.63,142.40 L553.39,141.90 L553.15,141.40 L552.90,140.90 L552.65,140.40 L552.39,139.90 L552.13,139.40 L551.86,138.90 L551.58,138.40 L551.29,137.90 L551.00,137.40 L550.70,136.90 L550.39,136.40 L550.08,135.90 L549.76,135.40 L549.44,134.90 L549.11,134.40 L548.78,133.90 L548.45,133.40 L548.10,132.90 L547.76,132.40 L547.40,131.90 L547.04,131.40 L546.68,130.90 L546.30,130.40 L545.90,129.90 L545.51,129.40 L545.11,128.90 L544.74,128.40 L544.38,127.90 L544.05,127.40 L543.73,126.90 L543.42,126.40 L543.12,125.90 L542.81,125.40 L542.48,124.90 L542.15,124.40 L541.81,123.90 L541.46,123.40 L541.12,122.90 L540.78,122.40 L540.45,121.90 L540.11,121.40 L539.77,120.90 L539.43,120.40 L539.12,119.90 L538.84,119.40 L538.61,118.90 L538.40,118.40 L538.20,117.90 L538.02,117.40 L537.86,116.90 L537.73,116.40 L537.63,115.90 L537.55,115.40 L537.47,114.90 L537.40,114.40 L537.36,113.90 L537.35,113.40 L537.38,112.90 L537.44,112.40 L537.54,111.90 L537.64,111.40 L537.76,110.90 L537.87,110.40 L538.00,109.90 L538.16,109.40 L538.34,108.90 L538.53,108.40 L538.73,107.90 L538.94,107.40 L539.16,106.90 L539.41,106.40 L539.68,105.90 L539.95,105.40 L540.24,104.90 L540.54,104.40 L540.84,103.90 L541.13,103.40 L541.43,102.90 L541.73,102.40 L542.05,101.90 L542.38,101.40 L542.72,100.90 L543.06,100.40 L543.39,99.90 L543.72,99.40 L544.02,98.90 L544.30,98.40 L544.55,97.90 L544.78,97.40 L544.99,96.90 L545.20,96.40 L545.40,95.90 L545.58,95.40 L545.75,94.90 L545.91,94.40 L546.05,93.90 L546.17,93.40 L546.28,92.90 L546.37,92.40 L546.45,91.90 L546.53,91.40 L546.60,90.90 L546.68,90.40 L546.76,89.90 L546.86,89.40 L546.97,88.90 L547.10,88.40 L547.24,87.90 L547.40,87.40 L547.56,86.90 L547.72,86.40 L547.89,85.90 L548.05,85.40 L548.21,84.90 L548.35,84.40 L548.49,83.90 L548.62,83.40 L548.75,82.90 L548.88,82.40 L549.00,81.90 L549.13,81.40 L549.25,80.90 L549.38,80.40 L549.50,79.90 L549.62,79.40 L549.75,78.90 L549.87,78.40 L549.99,77.90 L550.11,77.40 L550.22,76.90 L550.34,76.40 L550.47,75.90 L550.59,75.40 L550.72,74.90 L550.85,74.40 L550.99,73.90 L551.13,73.40 L551.28,72.90 L551.43,72.40 L551.58,71.90 L551.73,71.40 L551.88,70.90 L552.04,70.40 L552.19,69.90 L552.34,69.40 L552.49,68.90 L552.64,68.40 L552.80,67.90 L552.95,67.40 L553.10,66.90 L553.26,66.40 L553.42,65.90 L553.58,65.40 L553.75,64.90 L553.92,64.40 L554.10,63.90 L554.29,63.40 L554.48,62.90 L554.67,62.40 L554.87,61.90 L555.05,61.40 L555.24,60.90 L555.42,60.40 L555.58,59.90 L555.75,59.40 L555.91,58.90 L556.07,58.40 L556.23,57.90 L556.39,57.40 L556.54,56.90 L556.69,56.40 L556.83,55.90 L556.96,55.40 L557.08,54.90 L557.20,54.40 L557.31,53.90 L557.42,53.40 L557.52,52.90 L557.62,52.40 L557.72,51.90 L557.81,51.40 L557.89,50.90 L557.97,50.40 L558.03,49.90 L558.08,49.40 L558.13,48.90 L558.17,48.40 L558.21,47.90 L558.25,47.40 L558.28,46.90 L558.32,46.40 L558.35,45.90 L558.38,45.40 L558.41,44.90 L558.43,44.40 L558.46,43.90 L558.48,43.40 L558.50,42.90 L558.53,42.40 L558.56,41.90 L558.58,41.40 L558.61,40.90 L558.64,40.40 L558.68,39.90 L558.71,39.40 L558.74,38.90 L558.78,38.40 L558.81,37.90 L558.85,37.40 Z" fill="#B2DF8A" class="vo"/>
<line x1="418.3" y1="196.9" x2="418.3" y2="219.8" class="wh"/>
<line x1="418.3" y1="235.4" x2="418.3" y2="257.4" class="wh"/>
<rect x="414.8" y="219.8" width="7.0" height="15.599999999999994" class="bx"/>
<line x1="414.8" y1="226.2" x2="421.8" y2="226.2" class="md"/>
<line x1="488.6" y1="64.7" x2="488.6" y2="108.6" class="wh"/>
<line x1="488.6" y1="144.2" x2="488.6" y2="183.0" class="wh"/>
<rect x="485.1" y="108.6" width="7.0" height="35.599999999999994" class="bx"/>
<line x1="485.1" y1="125.8" x2="492.1" y2="125.8" class="md"/>
<line x1="558.85" y1="65.1" x2="558.85" y2="92.2" class="wh"/>
<line x1="558.85" y1="118.5" x2="558.85" y2="143.8" class="wh"/>
<rect x="555.35" y="92.2" width="7.0" height="26.299999999999997" class="bx"/>
<line x1="555.35" y1="113.5" x2="562.35" y2="113.5" class="md"/>
<circle cx="418.3" cy="271.51" r="2.05" fill="#333333"/>
<circle cx="418.3" cy="302.12" r="2.05" fill="#333333"/>
<circle cx="418.3" cy="315.17" r="2.05" fill="#333333"/>
<line x1="373.50" x2="376.2" y1="302.36" y2="302.36" class="tk"/>
<text transform="translate(371.90,305.26) scale(1,1.04)" class="at" text-anchor="end">0</text>
<line x1="373.50" x2="376.2" y1="243.04" y2="243.04" class="tk"/>
<text transform="translate(371.90,245.94) scale(1,1.04)" class="at" text-anchor="end">25</text>
<line x1="373.50" x2="376.2" y1="183.71" y2="183.71" class="tk"/>
<text transform="translate(371.90,186.61) scale(1,1.04)" class="at" text-anchor="end">50</text>
<line x1="373.50" x2="376.2" y1="124.39" y2="124.39" class="tk"/>
<text transform="translate(371.90,127.29) scale(1,1.04)" class="at" text-anchor="end">75</text>
<line x1="373.50" x2="376.2" y1="65.06" y2="65.06" class="tk"/>
<text transform="translate(371.90,67.96) scale(1,1.04)" class="at" text-anchor="end">100</text>
<line x1="418.3" x2="418.3" y1="347.4" y2="350.10" class="tk"/>
<text transform="translate(418.30,357.70) scale(1,1.04)" class="at" text-anchor="middle">No response</text>
<line x1="488.6" x2="488.6" y1="347.4" y2="350.10" class="tk"/>
<text transform="translate(488.60,357.70) scale(1,1.04)" class="at" text-anchor="middle">Response</text>
<line x1="558.85" x2="558.85" y1="347.4" y2="350.10" class="tk"/>
<text transform="translate(558.85,357.70) scale(1,1.04)" class="at" text-anchor="middle">Remitter</text>
<text transform="translate(32.60,34.90)" class="lab">A.</text>
<text transform="translate(390.60,35.60)" class="lab" style="font-size:14.2px">B.</text>
<text transform="translate(7.50,181.20) rotate(-90) scale(1,1.04)" class="ax" text-anchor="middle">Baseline MADRS</text>
<text transform="translate(354.30,181.50) rotate(-90) scale(1,1.04)" class="ax" text-anchor="middle">% change MADRS</text>
<text transform="translate(342.60,7.80) scale(1,1.04)" class="ti" text-anchor="middle">Efficacy of ECT on clinical symptomatology</text>
<text transform="translate(268.30,159.70) scale(1,1.04)" class="lt">Response</text>
<rect x="268.95" y="166.55" width="13.70" height="13.80" fill="#A6CEE3" stroke="#333333" stroke-width="1.1"/>
<text transform="translate(289.00,176.25) scale(1,1.04)" class="lx">No response</text>
<rect x="268.95" y="181.45" width="13.70" height="13.80" fill="#1F78B4" stroke="#333333" stroke-width="1.1"/>
<text transform="translate(289.00,191.15) scale(1,1.04)" class="lx">Response</text>
<rect x="268.95" y="196.35" width="13.70" height="13.80" fill="#B2DF8A" stroke="#333333" stroke-width="1.1"/>
<text transform="translate(289.00,206.05) scale(1,1.04)" class="lx">Remitter</text>
<text transform="translate(615.60,159.70) scale(1,1.04)" class="lt">Response</text>
<rect x="616.25" y="166.55" width="13.70" height="13.80" fill="#A6CEE3" stroke="#333333" stroke-width="1.1"/>
<text transform="translate(636.30,176.25) scale(1,1.04)" class="lx">No response</text>
<rect x="616.25" y="181.45" width="13.70" height="13.80" fill="#1F78B4" stroke="#333333" stroke-width="1.1"/>
<text transform="translate(636.30,191.15) scale(1,1.04)" class="lx">Response</text>
<rect x="616.25" y="196.35" width="13.70" height="13.80" fill="#B2DF8A" stroke="#333333" stroke-width="1.1"/>
<text transform="translate(636.30,206.05) scale(1,1.04)" class="lx">Remitter</text>
</svg>
</body></html>
